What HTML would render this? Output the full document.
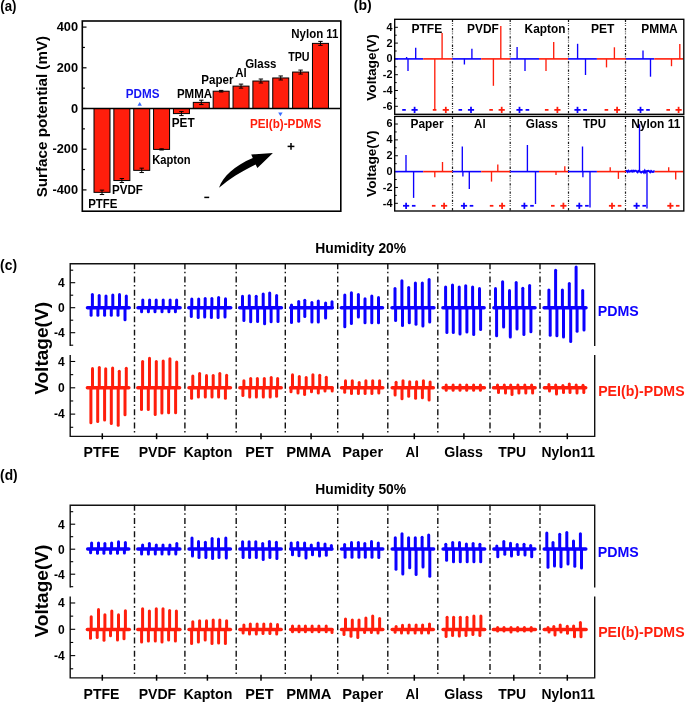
<!DOCTYPE html>
<html><head><meta charset="utf-8"><title>Figure</title>
<style>
html,body{margin:0;padding:0;background:#fff;}
body{width:685px;height:703px;overflow:hidden;}
svg{display:block;filter:blur(0.4px);font-family:"Liberation Sans",sans-serif;font-weight:bold;}
</style></head><body>
<svg width="685" height="703" viewBox="0 0 685 703">
<rect width="685" height="703" fill="#fff"/>
<text x="0.3" y="10.9" font-size="14" fill="#000" textLength="16.2" lengthAdjust="spacingAndGlyphs">(a)</text>
<text x="46.6" y="116.6" font-size="15.3" fill="#000" text-anchor="middle" textLength="161.5" lengthAdjust="spacingAndGlyphs" transform="rotate(-90 46.6 116.6)">Surface potential (mV)</text>
<rect x="94" y="108.5" width="16" height="83.84" fill="#ff1e0c" stroke="#000" stroke-width="1"/>
<line x1="102" y1="190.14" x2="102" y2="194.54" stroke="#000" stroke-width="1" stroke-linecap="butt"/>
<line x1="99.8" y1="190.14" x2="104.2" y2="190.14" stroke="#000" stroke-width="1" stroke-linecap="butt"/>
<line x1="99.8" y1="194.54" x2="104.2" y2="194.54" stroke="#000" stroke-width="1" stroke-linecap="butt"/>
<rect x="113.86" y="108.5" width="16" height="72.04" fill="#ff1e0c" stroke="#000" stroke-width="1"/>
<line x1="121.86" y1="178.54" x2="121.86" y2="182.54" stroke="#000" stroke-width="1" stroke-linecap="butt"/>
<line x1="119.66" y1="178.54" x2="124.06" y2="178.54" stroke="#000" stroke-width="1" stroke-linecap="butt"/>
<line x1="119.66" y1="182.54" x2="124.06" y2="182.54" stroke="#000" stroke-width="1" stroke-linecap="butt"/>
<rect x="133.72" y="108.5" width="16" height="61.86" fill="#ff1e0c" stroke="#000" stroke-width="1"/>
<line x1="141.72" y1="168.16" x2="141.72" y2="172.56" stroke="#000" stroke-width="1" stroke-linecap="butt"/>
<line x1="139.52" y1="168.16" x2="143.92" y2="168.16" stroke="#000" stroke-width="1" stroke-linecap="butt"/>
<line x1="139.52" y1="172.56" x2="143.92" y2="172.56" stroke="#000" stroke-width="1" stroke-linecap="butt"/>
<rect x="153.58" y="108.5" width="16" height="40.9" fill="#ff1e0c" stroke="#000" stroke-width="1"/>
<line x1="161.58" y1="148.8" x2="161.58" y2="150" stroke="#000" stroke-width="1" stroke-linecap="butt"/>
<line x1="159.38" y1="148.8" x2="163.78" y2="148.8" stroke="#000" stroke-width="1" stroke-linecap="butt"/>
<line x1="159.38" y1="150" x2="163.78" y2="150" stroke="#000" stroke-width="1" stroke-linecap="butt"/>
<rect x="173.44" y="108.5" width="16" height="5.09" fill="#ff1e0c" stroke="#000" stroke-width="1"/>
<line x1="181.44" y1="111.59" x2="181.44" y2="115.59" stroke="#000" stroke-width="1" stroke-linecap="butt"/>
<line x1="179.24" y1="111.59" x2="183.64" y2="111.59" stroke="#000" stroke-width="1" stroke-linecap="butt"/>
<line x1="179.24" y1="115.59" x2="183.64" y2="115.59" stroke="#000" stroke-width="1" stroke-linecap="butt"/>
<rect x="193.3" y="102.39" width="16" height="6.11" fill="#ff1e0c" stroke="#000" stroke-width="1"/>
<line x1="201.3" y1="100.19" x2="201.3" y2="104.59" stroke="#000" stroke-width="1" stroke-linecap="butt"/>
<line x1="199.1" y1="100.19" x2="203.5" y2="100.19" stroke="#000" stroke-width="1" stroke-linecap="butt"/>
<line x1="199.1" y1="104.59" x2="203.5" y2="104.59" stroke="#000" stroke-width="1" stroke-linecap="butt"/>
<rect x="213.16" y="91.2" width="16" height="17.3" fill="#ff1e0c" stroke="#000" stroke-width="1"/>
<line x1="221.16" y1="90.4" x2="221.16" y2="92" stroke="#000" stroke-width="1" stroke-linecap="butt"/>
<line x1="218.96" y1="90.4" x2="223.36" y2="90.4" stroke="#000" stroke-width="1" stroke-linecap="butt"/>
<line x1="218.96" y1="92" x2="223.36" y2="92" stroke="#000" stroke-width="1" stroke-linecap="butt"/>
<rect x="233.02" y="86.12" width="16" height="22.38" fill="#ff1e0c" stroke="#000" stroke-width="1"/>
<line x1="241.02" y1="84.12" x2="241.02" y2="88.12" stroke="#000" stroke-width="1" stroke-linecap="butt"/>
<line x1="238.82" y1="84.12" x2="243.22" y2="84.12" stroke="#000" stroke-width="1" stroke-linecap="butt"/>
<line x1="238.82" y1="88.12" x2="243.22" y2="88.12" stroke="#000" stroke-width="1" stroke-linecap="butt"/>
<rect x="252.88" y="81.03" width="16" height="27.47" fill="#ff1e0c" stroke="#000" stroke-width="1"/>
<line x1="260.88" y1="79.03" x2="260.88" y2="83.03" stroke="#000" stroke-width="1" stroke-linecap="butt"/>
<line x1="258.68" y1="79.03" x2="263.08" y2="79.03" stroke="#000" stroke-width="1" stroke-linecap="butt"/>
<line x1="258.68" y1="83.03" x2="263.08" y2="83.03" stroke="#000" stroke-width="1" stroke-linecap="butt"/>
<rect x="272.74" y="77.97" width="16" height="30.53" fill="#ff1e0c" stroke="#000" stroke-width="1"/>
<line x1="280.74" y1="75.97" x2="280.74" y2="79.97" stroke="#000" stroke-width="1" stroke-linecap="butt"/>
<line x1="278.54" y1="75.97" x2="282.94" y2="75.97" stroke="#000" stroke-width="1" stroke-linecap="butt"/>
<line x1="278.54" y1="79.97" x2="282.94" y2="79.97" stroke="#000" stroke-width="1" stroke-linecap="butt"/>
<rect x="292.6" y="72.07" width="16" height="36.43" fill="#ff1e0c" stroke="#000" stroke-width="1"/>
<line x1="300.6" y1="70.07" x2="300.6" y2="74.07" stroke="#000" stroke-width="1" stroke-linecap="butt"/>
<line x1="298.4" y1="70.07" x2="302.8" y2="70.07" stroke="#000" stroke-width="1" stroke-linecap="butt"/>
<line x1="298.4" y1="74.07" x2="302.8" y2="74.07" stroke="#000" stroke-width="1" stroke-linecap="butt"/>
<rect x="312.46" y="43.38" width="16" height="65.12" fill="#ff1e0c" stroke="#000" stroke-width="1"/>
<line x1="320.46" y1="41.38" x2="320.46" y2="45.38" stroke="#000" stroke-width="1" stroke-linecap="butt"/>
<line x1="318.26" y1="41.38" x2="322.66" y2="41.38" stroke="#000" stroke-width="1" stroke-linecap="butt"/>
<line x1="318.26" y1="45.38" x2="322.66" y2="45.38" stroke="#000" stroke-width="1" stroke-linecap="butt"/>
<line x1="82.3" y1="108.5" x2="340.8" y2="108.5" stroke="#000" stroke-width="1.5" stroke-linecap="butt"/>
<rect x="82.3" y="21" width="258.5" height="190.2" fill="none" stroke="#000" stroke-width="1.6"/>
<line x1="82.3" y1="189.9" x2="86.5" y2="189.9" stroke="#000" stroke-width="1.2" stroke-linecap="butt"/>
<line x1="82.3" y1="169.55" x2="84.9" y2="169.55" stroke="#000" stroke-width="1.2" stroke-linecap="butt"/>
<line x1="82.3" y1="149.2" x2="86.5" y2="149.2" stroke="#000" stroke-width="1.2" stroke-linecap="butt"/>
<line x1="82.3" y1="128.85" x2="84.9" y2="128.85" stroke="#000" stroke-width="1.2" stroke-linecap="butt"/>
<line x1="82.3" y1="108.5" x2="86.5" y2="108.5" stroke="#000" stroke-width="1.2" stroke-linecap="butt"/>
<line x1="82.3" y1="88.15" x2="84.9" y2="88.15" stroke="#000" stroke-width="1.2" stroke-linecap="butt"/>
<line x1="82.3" y1="67.8" x2="86.5" y2="67.8" stroke="#000" stroke-width="1.2" stroke-linecap="butt"/>
<line x1="82.3" y1="47.45" x2="84.9" y2="47.45" stroke="#000" stroke-width="1.2" stroke-linecap="butt"/>
<line x1="82.3" y1="27.1" x2="86.5" y2="27.1" stroke="#000" stroke-width="1.2" stroke-linecap="butt"/>
<text x="78.1" y="31.3" font-size="12.8" fill="#000" text-anchor="end">400</text>
<text x="78.1" y="72" font-size="12.8" fill="#000" text-anchor="end">200</text>
<text x="78.1" y="112.7" font-size="12.8" fill="#000" text-anchor="end">0</text>
<text x="78.1" y="153.4" font-size="12.8" fill="#000" text-anchor="end">-200</text>
<text x="78.1" y="194.1" font-size="12.8" fill="#000" text-anchor="end">-400</text>
<text x="88.2" y="208" font-size="12" fill="#000" textLength="29.3" lengthAdjust="spacingAndGlyphs">PTFE</text>
<text x="112.1" y="193.8" font-size="12" fill="#000" textLength="30.8" lengthAdjust="spacingAndGlyphs">PVDF</text>
<text x="152.2" y="163.8" font-size="12" fill="#000" textLength="38.5" lengthAdjust="spacingAndGlyphs">Kapton</text>
<text x="171.7" y="127.2" font-size="12" fill="#000" textLength="22.9" lengthAdjust="spacingAndGlyphs">PET</text>
<text x="176.9" y="98.2" font-size="12" fill="#000" textLength="35.2" lengthAdjust="spacingAndGlyphs">PMMA</text>
<text x="201.3" y="84.1" font-size="12" fill="#000" textLength="32.1" lengthAdjust="spacingAndGlyphs">Paper</text>
<text x="235.3" y="77.2" font-size="12" fill="#000" textLength="11.5" lengthAdjust="spacingAndGlyphs">Al</text>
<text x="245.2" y="67.8" font-size="12" fill="#000" textLength="31.2" lengthAdjust="spacingAndGlyphs">Glass</text>
<text x="288.2" y="61.1" font-size="12" fill="#000" textLength="21.4" lengthAdjust="spacingAndGlyphs">TPU</text>
<text x="291.3" y="37.6" font-size="12" fill="#000" textLength="47.2" lengthAdjust="spacingAndGlyphs">Nylon 11</text>
<text x="125.8" y="98.2" font-size="12" fill="#1414f5" textLength="33.7" lengthAdjust="spacingAndGlyphs">PDMS</text>
<text x="249.9" y="127.5" font-size="12" fill="#ff1e0c" textLength="71.5" lengthAdjust="spacingAndGlyphs">PEI(b)-PDMS</text>
<path d="M137.5,105.7 L141.9,105.7 L139.7,101.9 Z" fill="#3a6cff"/>
<path d="M278.2,112.6 L282.6,112.6 L280.4,116.3 Z" fill="#3a6cff"/>
<line x1="287.6" y1="146.4" x2="294.4" y2="146.4" stroke="#000" stroke-width="1.5" stroke-linecap="butt"/>
<line x1="291" y1="143" x2="291" y2="149.8" stroke="#000" stroke-width="1.5" stroke-linecap="butt"/>
<line x1="204.3" y1="197.4" x2="209.2" y2="197.4" stroke="#000" stroke-width="1.5" stroke-linecap="butt"/>
<path d="M219,187.8 C223,176.5 234,166 252.8,158.0 L251.2,154.6 L272.9,153.0 L257.4,168.0 L255.6,164.4 C241,171.5 229,179 219,187.8 Z" fill="#000"/>
<text x="353.8" y="10.3" font-size="14" fill="#000" textLength="17.9" lengthAdjust="spacingAndGlyphs">(b)</text>
<line x1="452.5" y1="19.3" x2="452.5" y2="114.3" stroke="#1a1a1a" stroke-width="1.2" stroke-linecap="butt" stroke-dasharray="2.3 1.2 0.8 1.2 0.8 2.0" stroke-dashoffset="-0.4"/>
<line x1="510.2" y1="19.3" x2="510.2" y2="114.3" stroke="#1a1a1a" stroke-width="1.2" stroke-linecap="butt" stroke-dasharray="2.3 1.2 0.8 1.2 0.8 2.0" stroke-dashoffset="-0.4"/>
<line x1="568.5" y1="19.3" x2="568.5" y2="114.3" stroke="#1a1a1a" stroke-width="1.2" stroke-linecap="butt" stroke-dasharray="2.3 1.2 0.8 1.2 0.8 2.0" stroke-dashoffset="-0.4"/>
<line x1="625.5" y1="19.3" x2="625.5" y2="114.3" stroke="#1a1a1a" stroke-width="1.2" stroke-linecap="butt" stroke-dasharray="2.3 1.2 0.8 1.2 0.8 2.0" stroke-dashoffset="-0.4"/>
<line x1="394.7" y1="106.3" x2="397.9" y2="106.3" stroke="#000" stroke-width="1" stroke-linecap="butt"/>
<line x1="394.7" y1="98.4" x2="396.7" y2="98.4" stroke="#000" stroke-width="1" stroke-linecap="butt"/>
<line x1="394.7" y1="90.5" x2="397.9" y2="90.5" stroke="#000" stroke-width="1" stroke-linecap="butt"/>
<line x1="394.7" y1="82.6" x2="396.7" y2="82.6" stroke="#000" stroke-width="1" stroke-linecap="butt"/>
<line x1="394.7" y1="74.7" x2="397.9" y2="74.7" stroke="#000" stroke-width="1" stroke-linecap="butt"/>
<line x1="394.7" y1="66.8" x2="396.7" y2="66.8" stroke="#000" stroke-width="1" stroke-linecap="butt"/>
<line x1="394.7" y1="58.9" x2="397.9" y2="58.9" stroke="#000" stroke-width="1" stroke-linecap="butt"/>
<line x1="394.7" y1="51" x2="396.7" y2="51" stroke="#000" stroke-width="1" stroke-linecap="butt"/>
<line x1="394.7" y1="43.1" x2="397.9" y2="43.1" stroke="#000" stroke-width="1" stroke-linecap="butt"/>
<line x1="394.7" y1="35.2" x2="396.7" y2="35.2" stroke="#000" stroke-width="1" stroke-linecap="butt"/>
<line x1="394.7" y1="27.3" x2="397.9" y2="27.3" stroke="#000" stroke-width="1" stroke-linecap="butt"/>
<line x1="394.7" y1="58.9" x2="423.2" y2="58.9" stroke="#0c00ff" stroke-width="1.6" stroke-linecap="butt"/>
<line x1="406.6" y1="58.9" x2="406.6" y2="57" stroke="#0c00ff" stroke-width="1.35" stroke-linecap="butt"/>
<line x1="408" y1="58.9" x2="408" y2="71" stroke="#0c00ff" stroke-width="1.35" stroke-linecap="butt"/>
<line x1="415.7" y1="58.9" x2="415.7" y2="47.7" stroke="#0c00ff" stroke-width="1.35" stroke-linecap="butt"/>
<line x1="423.2" y1="58.9" x2="452.5" y2="58.9" stroke="#ff1e0c" stroke-width="1.6" stroke-linecap="butt"/>
<line x1="434.8" y1="58.9" x2="434.8" y2="109.5" stroke="#ff1e0c" stroke-width="1.35" stroke-linecap="butt"/>
<line x1="442.1" y1="58.9" x2="442.1" y2="32.9" stroke="#ff1e0c" stroke-width="1.35" stroke-linecap="butt"/>
<line x1="452.5" y1="58.9" x2="481.2" y2="58.9" stroke="#0c00ff" stroke-width="1.6" stroke-linecap="butt"/>
<line x1="464.4" y1="58.9" x2="464.4" y2="64.5" stroke="#0c00ff" stroke-width="1.35" stroke-linecap="butt"/>
<line x1="471.9" y1="58.9" x2="471.9" y2="48.7" stroke="#0c00ff" stroke-width="1.35" stroke-linecap="butt"/>
<line x1="481.2" y1="58.9" x2="510.3" y2="58.9" stroke="#ff1e0c" stroke-width="1.6" stroke-linecap="butt"/>
<line x1="493.4" y1="58.9" x2="493.4" y2="85.8" stroke="#ff1e0c" stroke-width="1.35" stroke-linecap="butt"/>
<line x1="500.8" y1="58.9" x2="500.8" y2="25.9" stroke="#ff1e0c" stroke-width="1.35" stroke-linecap="butt"/>
<line x1="510.3" y1="58.9" x2="539" y2="58.9" stroke="#0c00ff" stroke-width="1.6" stroke-linecap="butt"/>
<line x1="517.1" y1="58.9" x2="517.1" y2="47" stroke="#0c00ff" stroke-width="1.35" stroke-linecap="butt"/>
<line x1="525" y1="58.9" x2="525" y2="71" stroke="#0c00ff" stroke-width="1.35" stroke-linecap="butt"/>
<line x1="539" y1="58.9" x2="568.1" y2="58.9" stroke="#ff1e0c" stroke-width="1.6" stroke-linecap="butt"/>
<line x1="546" y1="58.9" x2="546" y2="71" stroke="#ff1e0c" stroke-width="1.35" stroke-linecap="butt"/>
<line x1="553.7" y1="58.9" x2="553.7" y2="42" stroke="#ff1e0c" stroke-width="1.35" stroke-linecap="butt"/>
<line x1="568.1" y1="58.9" x2="596.9" y2="58.9" stroke="#0c00ff" stroke-width="1.6" stroke-linecap="butt"/>
<line x1="577.6" y1="58.9" x2="577.6" y2="43.8" stroke="#0c00ff" stroke-width="1.35" stroke-linecap="butt"/>
<line x1="585.5" y1="58.9" x2="585.5" y2="75" stroke="#0c00ff" stroke-width="1.35" stroke-linecap="butt"/>
<line x1="596.9" y1="58.9" x2="625.9" y2="58.9" stroke="#ff1e0c" stroke-width="1.6" stroke-linecap="butt"/>
<line x1="606.5" y1="58.9" x2="606.5" y2="67.4" stroke="#ff1e0c" stroke-width="1.35" stroke-linecap="butt"/>
<line x1="614.4" y1="58.9" x2="614.4" y2="47.3" stroke="#ff1e0c" stroke-width="1.35" stroke-linecap="butt"/>
<line x1="625.9" y1="58.9" x2="654.3" y2="58.9" stroke="#0c00ff" stroke-width="1.6" stroke-linecap="butt"/>
<line x1="643" y1="58.9" x2="643" y2="50.5" stroke="#0c00ff" stroke-width="1.35" stroke-linecap="butt"/>
<line x1="650.5" y1="58.9" x2="650.5" y2="76.7" stroke="#0c00ff" stroke-width="1.35" stroke-linecap="butt"/>
<line x1="654.3" y1="58.9" x2="683.3" y2="58.9" stroke="#ff1e0c" stroke-width="1.6" stroke-linecap="butt"/>
<line x1="671.5" y1="58.9" x2="671.5" y2="66.2" stroke="#ff1e0c" stroke-width="1.35" stroke-linecap="butt"/>
<line x1="679.8" y1="58.9" x2="679.8" y2="44.1" stroke="#ff1e0c" stroke-width="1.35" stroke-linecap="butt"/>
<line x1="402.2" y1="109.9" x2="405.8" y2="109.9" stroke="#0c00ff" stroke-width="1.75" stroke-linecap="butt"/>
<line x1="411.5" y1="109.9" x2="417.7" y2="109.9" stroke="#0c00ff" stroke-width="1.75" stroke-linecap="butt"/>
<line x1="414.6" y1="106.8" x2="414.6" y2="113" stroke="#0c00ff" stroke-width="1.75" stroke-linecap="butt"/>
<line x1="432.8" y1="109.9" x2="436.4" y2="109.9" stroke="#ff1e0c" stroke-width="1.75" stroke-linecap="butt"/>
<line x1="442.7" y1="109.9" x2="448.9" y2="109.9" stroke="#ff1e0c" stroke-width="1.75" stroke-linecap="butt"/>
<line x1="445.8" y1="106.8" x2="445.8" y2="113" stroke="#ff1e0c" stroke-width="1.75" stroke-linecap="butt"/>
<line x1="458.5" y1="109.9" x2="462.1" y2="109.9" stroke="#0c00ff" stroke-width="1.75" stroke-linecap="butt"/>
<line x1="467.9" y1="109.9" x2="474.1" y2="109.9" stroke="#0c00ff" stroke-width="1.75" stroke-linecap="butt"/>
<line x1="471" y1="106.8" x2="471" y2="113" stroke="#0c00ff" stroke-width="1.75" stroke-linecap="butt"/>
<line x1="489.3" y1="109.9" x2="492.9" y2="109.9" stroke="#ff1e0c" stroke-width="1.75" stroke-linecap="butt"/>
<line x1="498.6" y1="109.9" x2="504.8" y2="109.9" stroke="#ff1e0c" stroke-width="1.75" stroke-linecap="butt"/>
<line x1="501.7" y1="106.8" x2="501.7" y2="113" stroke="#ff1e0c" stroke-width="1.75" stroke-linecap="butt"/>
<line x1="516.4" y1="109.9" x2="522.6" y2="109.9" stroke="#0c00ff" stroke-width="1.75" stroke-linecap="butt"/>
<line x1="519.5" y1="106.8" x2="519.5" y2="113" stroke="#0c00ff" stroke-width="1.75" stroke-linecap="butt"/>
<line x1="525.6" y1="109.9" x2="529.2" y2="109.9" stroke="#0c00ff" stroke-width="1.75" stroke-linecap="butt"/>
<line x1="544.9" y1="109.9" x2="548.5" y2="109.9" stroke="#ff1e0c" stroke-width="1.75" stroke-linecap="butt"/>
<line x1="554.3" y1="109.9" x2="560.5" y2="109.9" stroke="#ff1e0c" stroke-width="1.75" stroke-linecap="butt"/>
<line x1="557.4" y1="106.8" x2="557.4" y2="113" stroke="#ff1e0c" stroke-width="1.75" stroke-linecap="butt"/>
<line x1="574.4" y1="109.9" x2="580.6" y2="109.9" stroke="#0c00ff" stroke-width="1.75" stroke-linecap="butt"/>
<line x1="577.5" y1="106.8" x2="577.5" y2="113" stroke="#0c00ff" stroke-width="1.75" stroke-linecap="butt"/>
<line x1="583.3" y1="109.9" x2="586.9" y2="109.9" stroke="#0c00ff" stroke-width="1.75" stroke-linecap="butt"/>
<line x1="604.6" y1="109.9" x2="608.2" y2="109.9" stroke="#ff1e0c" stroke-width="1.75" stroke-linecap="butt"/>
<line x1="614" y1="109.9" x2="620.2" y2="109.9" stroke="#ff1e0c" stroke-width="1.75" stroke-linecap="butt"/>
<line x1="617.1" y1="106.8" x2="617.1" y2="113" stroke="#ff1e0c" stroke-width="1.75" stroke-linecap="butt"/>
<line x1="637.4" y1="109.9" x2="643.6" y2="109.9" stroke="#0c00ff" stroke-width="1.75" stroke-linecap="butt"/>
<line x1="640.5" y1="106.8" x2="640.5" y2="113" stroke="#0c00ff" stroke-width="1.75" stroke-linecap="butt"/>
<line x1="646.2" y1="109.9" x2="649.8" y2="109.9" stroke="#0c00ff" stroke-width="1.75" stroke-linecap="butt"/>
<line x1="666.4" y1="109.9" x2="670" y2="109.9" stroke="#ff1e0c" stroke-width="1.75" stroke-linecap="butt"/>
<line x1="675.5" y1="109.9" x2="681.7" y2="109.9" stroke="#ff1e0c" stroke-width="1.75" stroke-linecap="butt"/>
<line x1="678.6" y1="106.8" x2="678.6" y2="113" stroke="#ff1e0c" stroke-width="1.75" stroke-linecap="butt"/>
<text x="411.4" y="33" font-size="12.2" fill="#000" textLength="30.8" lengthAdjust="spacingAndGlyphs">PTFE</text>
<text x="467.1" y="33" font-size="12.2" fill="#000" textLength="31.7" lengthAdjust="spacingAndGlyphs">PVDF</text>
<text x="524.6" y="33" font-size="12.2" fill="#000" textLength="40.8" lengthAdjust="spacingAndGlyphs">Kapton</text>
<text x="590.9" y="33" font-size="12.2" fill="#000" textLength="23.4" lengthAdjust="spacingAndGlyphs">PET</text>
<text x="641.3" y="33" font-size="12.2" fill="#000" textLength="36.4" lengthAdjust="spacingAndGlyphs">PMMA</text>
<rect x="394.7" y="19.3" width="289.1" height="95" fill="none" stroke="#000" stroke-width="1.35"/>
<text x="392.4" y="30.7" font-size="10.8" fill="#000" text-anchor="end">4</text>
<text x="392.4" y="46.5" font-size="10.8" fill="#000" text-anchor="end">2</text>
<text x="392.4" y="62.3" font-size="10.8" fill="#000" text-anchor="end">0</text>
<text x="392.4" y="78.1" font-size="10.8" fill="#000" text-anchor="end">-2</text>
<text x="392.4" y="93.9" font-size="10.8" fill="#000" text-anchor="end">-4</text>
<text x="392.4" y="109.7" font-size="10.8" fill="#000" text-anchor="end">-6</text>
<text x="376.4" y="67.5" font-size="13.4" fill="#000" text-anchor="middle" textLength="66.5" lengthAdjust="spacingAndGlyphs" transform="rotate(-90 376.4 67.5)">Voltage(V)</text>
<line x1="452.5" y1="116.4" x2="452.5" y2="211" stroke="#1a1a1a" stroke-width="1.2" stroke-linecap="butt" stroke-dasharray="2.3 1.2 0.8 1.2 0.8 2.0" stroke-dashoffset="-0.4"/>
<line x1="510.2" y1="116.4" x2="510.2" y2="211" stroke="#1a1a1a" stroke-width="1.2" stroke-linecap="butt" stroke-dasharray="2.3 1.2 0.8 1.2 0.8 2.0" stroke-dashoffset="-0.4"/>
<line x1="568.5" y1="116.4" x2="568.5" y2="211" stroke="#1a1a1a" stroke-width="1.2" stroke-linecap="butt" stroke-dasharray="2.3 1.2 0.8 1.2 0.8 2.0" stroke-dashoffset="-0.4"/>
<line x1="625.5" y1="116.4" x2="625.5" y2="211" stroke="#1a1a1a" stroke-width="1.2" stroke-linecap="butt" stroke-dasharray="2.3 1.2 0.8 1.2 0.8 2.0" stroke-dashoffset="-0.4"/>
<line x1="394.7" y1="203.32" x2="397.9" y2="203.32" stroke="#000" stroke-width="1" stroke-linecap="butt"/>
<line x1="394.7" y1="195.39" x2="396.7" y2="195.39" stroke="#000" stroke-width="1" stroke-linecap="butt"/>
<line x1="394.7" y1="187.46" x2="397.9" y2="187.46" stroke="#000" stroke-width="1" stroke-linecap="butt"/>
<line x1="394.7" y1="179.53" x2="396.7" y2="179.53" stroke="#000" stroke-width="1" stroke-linecap="butt"/>
<line x1="394.7" y1="171.6" x2="397.9" y2="171.6" stroke="#000" stroke-width="1" stroke-linecap="butt"/>
<line x1="394.7" y1="163.67" x2="396.7" y2="163.67" stroke="#000" stroke-width="1" stroke-linecap="butt"/>
<line x1="394.7" y1="155.74" x2="397.9" y2="155.74" stroke="#000" stroke-width="1" stroke-linecap="butt"/>
<line x1="394.7" y1="147.81" x2="396.7" y2="147.81" stroke="#000" stroke-width="1" stroke-linecap="butt"/>
<line x1="394.7" y1="139.88" x2="397.9" y2="139.88" stroke="#000" stroke-width="1" stroke-linecap="butt"/>
<line x1="394.7" y1="131.95" x2="396.7" y2="131.95" stroke="#000" stroke-width="1" stroke-linecap="butt"/>
<line x1="394.7" y1="124.02" x2="397.9" y2="124.02" stroke="#000" stroke-width="1" stroke-linecap="butt"/>
<line x1="394.7" y1="171.6" x2="423.2" y2="171.6" stroke="#0c00ff" stroke-width="1.6" stroke-linecap="butt"/>
<line x1="406" y1="171.6" x2="406" y2="154.9" stroke="#0c00ff" stroke-width="1.35" stroke-linecap="butt"/>
<line x1="413.6" y1="171.6" x2="413.6" y2="197.9" stroke="#0c00ff" stroke-width="1.35" stroke-linecap="butt"/>
<line x1="423.2" y1="171.6" x2="452.5" y2="171.6" stroke="#ff1e0c" stroke-width="1.6" stroke-linecap="butt"/>
<line x1="434.8" y1="171.6" x2="434.8" y2="177.2" stroke="#ff1e0c" stroke-width="1.35" stroke-linecap="butt"/>
<line x1="442.5" y1="171.6" x2="442.5" y2="162" stroke="#ff1e0c" stroke-width="1.35" stroke-linecap="butt"/>
<line x1="452.5" y1="171.6" x2="481.2" y2="171.6" stroke="#0c00ff" stroke-width="1.6" stroke-linecap="butt"/>
<line x1="462.3" y1="171.6" x2="462.3" y2="146.5" stroke="#0c00ff" stroke-width="1.35" stroke-linecap="butt"/>
<line x1="462.9" y1="171.6" x2="462.9" y2="176.5" stroke="#0c00ff" stroke-width="1.35" stroke-linecap="butt"/>
<line x1="469.3" y1="171.6" x2="469.3" y2="189.1" stroke="#0c00ff" stroke-width="1.35" stroke-linecap="butt"/>
<line x1="481.2" y1="171.6" x2="510.3" y2="171.6" stroke="#ff1e0c" stroke-width="1.6" stroke-linecap="butt"/>
<line x1="491.5" y1="171.6" x2="491.5" y2="181.6" stroke="#ff1e0c" stroke-width="1.35" stroke-linecap="butt"/>
<line x1="497.8" y1="171.6" x2="497.8" y2="164.6" stroke="#ff1e0c" stroke-width="1.35" stroke-linecap="butt"/>
<line x1="510.3" y1="171.6" x2="539" y2="171.6" stroke="#0c00ff" stroke-width="1.6" stroke-linecap="butt"/>
<line x1="527.4" y1="171.6" x2="527.4" y2="145" stroke="#0c00ff" stroke-width="1.35" stroke-linecap="butt"/>
<line x1="535.5" y1="171.6" x2="535.5" y2="204" stroke="#0c00ff" stroke-width="1.35" stroke-linecap="butt"/>
<line x1="539" y1="171.6" x2="568.1" y2="171.6" stroke="#ff1e0c" stroke-width="1.6" stroke-linecap="butt"/>
<line x1="556" y1="171.6" x2="556" y2="175" stroke="#ff1e0c" stroke-width="1.35" stroke-linecap="butt"/>
<line x1="564.8" y1="171.6" x2="564.8" y2="166.3" stroke="#ff1e0c" stroke-width="1.35" stroke-linecap="butt"/>
<line x1="568.1" y1="171.6" x2="596.9" y2="171.6" stroke="#0c00ff" stroke-width="1.6" stroke-linecap="butt"/>
<line x1="582.5" y1="171.6" x2="582.5" y2="146.5" stroke="#0c00ff" stroke-width="1.35" stroke-linecap="butt"/>
<line x1="582.9" y1="171.6" x2="582.9" y2="177.2" stroke="#0c00ff" stroke-width="1.35" stroke-linecap="butt"/>
<line x1="590" y1="171.6" x2="590" y2="207.5" stroke="#0c00ff" stroke-width="1.35" stroke-linecap="butt"/>
<line x1="596.9" y1="171.6" x2="625.9" y2="171.6" stroke="#ff1e0c" stroke-width="1.6" stroke-linecap="butt"/>
<line x1="610.2" y1="171.6" x2="610.2" y2="167.2" stroke="#ff1e0c" stroke-width="1.35" stroke-linecap="butt"/>
<line x1="618.4" y1="171.6" x2="618.4" y2="178.9" stroke="#ff1e0c" stroke-width="1.35" stroke-linecap="butt"/>
<polyline points="625.9,171.25 626.8,170.9 627.7,171.9 628.6,170.74 629.5,171.67 630.4,171.33 631.3,170.72 632.2,171.61 633.1,170.67 634,171.47 634.9,170.74 635.8,170.78 636.7,171.45 637.6,172.25 638.5,170.85 639.4,171.05 640.3,171.85 641.2,172.5 642.1,171.75 643,171.39 643.9,172.55 644.8,170.69 645.7,172.32 646.6,171.18 647.5,170.89 648.4,170.84 649.3,171.22 650.2,172.23 651.1,170.96 652,171.76 652.9,171.88 653.8,171.34 654.7,171.7" fill="none" stroke="#0c00ff" stroke-width="2"/>
<line x1="639.5" y1="171.6" x2="639.5" y2="124.3" stroke="#0c00ff" stroke-width="1.35" stroke-linecap="butt"/>
<line x1="647" y1="171.6" x2="647" y2="208.4" stroke="#0c00ff" stroke-width="1.35" stroke-linecap="butt"/>
<line x1="654.7" y1="171.6" x2="683.3" y2="171.6" stroke="#ff1e0c" stroke-width="1.6" stroke-linecap="butt"/>
<line x1="668.7" y1="171.6" x2="668.7" y2="167.2" stroke="#ff1e0c" stroke-width="1.35" stroke-linecap="butt"/>
<line x1="675.7" y1="171.6" x2="675.7" y2="179.5" stroke="#ff1e0c" stroke-width="1.35" stroke-linecap="butt"/>
<line x1="403" y1="205.8" x2="409.2" y2="205.8" stroke="#0c00ff" stroke-width="1.75" stroke-linecap="butt"/>
<line x1="406.1" y1="202.7" x2="406.1" y2="208.9" stroke="#0c00ff" stroke-width="1.75" stroke-linecap="butt"/>
<line x1="411.9" y1="205.8" x2="415.5" y2="205.8" stroke="#0c00ff" stroke-width="1.75" stroke-linecap="butt"/>
<line x1="431.9" y1="205.8" x2="435.5" y2="205.8" stroke="#ff1e0c" stroke-width="1.75" stroke-linecap="butt"/>
<line x1="441" y1="205.8" x2="447.2" y2="205.8" stroke="#ff1e0c" stroke-width="1.75" stroke-linecap="butt"/>
<line x1="444.1" y1="202.7" x2="444.1" y2="208.9" stroke="#ff1e0c" stroke-width="1.75" stroke-linecap="butt"/>
<line x1="460.9" y1="205.8" x2="467.1" y2="205.8" stroke="#0c00ff" stroke-width="1.75" stroke-linecap="butt"/>
<line x1="464" y1="202.7" x2="464" y2="208.9" stroke="#0c00ff" stroke-width="1.75" stroke-linecap="butt"/>
<line x1="469.7" y1="205.8" x2="473.3" y2="205.8" stroke="#0c00ff" stroke-width="1.75" stroke-linecap="butt"/>
<line x1="489.8" y1="205.8" x2="493.4" y2="205.8" stroke="#ff1e0c" stroke-width="1.75" stroke-linecap="butt"/>
<line x1="499" y1="205.8" x2="505.2" y2="205.8" stroke="#ff1e0c" stroke-width="1.75" stroke-linecap="butt"/>
<line x1="502.1" y1="202.7" x2="502.1" y2="208.9" stroke="#ff1e0c" stroke-width="1.75" stroke-linecap="butt"/>
<line x1="521.3" y1="205.8" x2="527.5" y2="205.8" stroke="#0c00ff" stroke-width="1.75" stroke-linecap="butt"/>
<line x1="524.4" y1="202.7" x2="524.4" y2="208.9" stroke="#0c00ff" stroke-width="1.75" stroke-linecap="butt"/>
<line x1="530.2" y1="205.8" x2="533.8" y2="205.8" stroke="#0c00ff" stroke-width="1.75" stroke-linecap="butt"/>
<line x1="551" y1="205.8" x2="554.6" y2="205.8" stroke="#ff1e0c" stroke-width="1.75" stroke-linecap="butt"/>
<line x1="560.3" y1="205.8" x2="566.5" y2="205.8" stroke="#ff1e0c" stroke-width="1.75" stroke-linecap="butt"/>
<line x1="563.4" y1="202.7" x2="563.4" y2="208.9" stroke="#ff1e0c" stroke-width="1.75" stroke-linecap="butt"/>
<line x1="576.2" y1="205.8" x2="582.4" y2="205.8" stroke="#0c00ff" stroke-width="1.75" stroke-linecap="butt"/>
<line x1="579.3" y1="202.7" x2="579.3" y2="208.9" stroke="#0c00ff" stroke-width="1.75" stroke-linecap="butt"/>
<line x1="585.1" y1="205.8" x2="588.7" y2="205.8" stroke="#0c00ff" stroke-width="1.75" stroke-linecap="butt"/>
<line x1="608.9" y1="205.8" x2="615.1" y2="205.8" stroke="#ff1e0c" stroke-width="1.75" stroke-linecap="butt"/>
<line x1="612" y1="202.7" x2="612" y2="208.9" stroke="#ff1e0c" stroke-width="1.75" stroke-linecap="butt"/>
<line x1="617.8" y1="205.8" x2="621.4" y2="205.8" stroke="#ff1e0c" stroke-width="1.75" stroke-linecap="butt"/>
<line x1="633.5" y1="205.8" x2="639.7" y2="205.8" stroke="#0c00ff" stroke-width="1.75" stroke-linecap="butt"/>
<line x1="636.6" y1="202.7" x2="636.6" y2="208.9" stroke="#0c00ff" stroke-width="1.75" stroke-linecap="butt"/>
<line x1="642.4" y1="205.8" x2="646" y2="205.8" stroke="#0c00ff" stroke-width="1.75" stroke-linecap="butt"/>
<line x1="667.3" y1="205.8" x2="673.5" y2="205.8" stroke="#ff1e0c" stroke-width="1.75" stroke-linecap="butt"/>
<line x1="670.4" y1="202.7" x2="670.4" y2="208.9" stroke="#ff1e0c" stroke-width="1.75" stroke-linecap="butt"/>
<line x1="675.9" y1="205.8" x2="679.5" y2="205.8" stroke="#ff1e0c" stroke-width="1.75" stroke-linecap="butt"/>
<text x="410.6" y="128" font-size="12.2" fill="#000" textLength="33" lengthAdjust="spacingAndGlyphs">Paper</text>
<text x="474.1" y="128" font-size="12.2" fill="#000" textLength="11.5" lengthAdjust="spacingAndGlyphs">Al</text>
<text x="525.8" y="128" font-size="12.2" fill="#000" textLength="32" lengthAdjust="spacingAndGlyphs">Glass</text>
<text x="583" y="128" font-size="12.2" fill="#000" textLength="22.9" lengthAdjust="spacingAndGlyphs">TPU</text>
<text x="631.2" y="128" font-size="12.2" fill="#000" textLength="49.2" lengthAdjust="spacingAndGlyphs">Nylon 11</text>
<rect x="394.7" y="116.4" width="289.1" height="94.6" fill="none" stroke="#000" stroke-width="1.35"/>
<text x="392.4" y="127.42" font-size="10.8" fill="#000" text-anchor="end">6</text>
<text x="392.4" y="143.28" font-size="10.8" fill="#000" text-anchor="end">4</text>
<text x="392.4" y="159.14" font-size="10.8" fill="#000" text-anchor="end">2</text>
<text x="392.4" y="175" font-size="10.8" fill="#000" text-anchor="end">0</text>
<text x="392.4" y="190.86" font-size="10.8" fill="#000" text-anchor="end">-2</text>
<text x="392.4" y="206.72" font-size="10.8" fill="#000" text-anchor="end">-4</text>
<text x="376.4" y="163.7" font-size="13.4" fill="#000" text-anchor="middle" textLength="66.5" lengthAdjust="spacingAndGlyphs" transform="rotate(-90 376.4 163.7)">Voltage(V)</text>
<text x="0.1" y="270.2" font-size="14.2" fill="#000" textLength="16.9" lengthAdjust="spacingAndGlyphs">(c)</text>
<text x="315.2" y="252.9" font-size="14" fill="#000" textLength="91" lengthAdjust="spacingAndGlyphs">Humidity 20%</text>
<line x1="134.5" y1="263.3" x2="134.5" y2="433.4" stroke="#111" stroke-width="1.4" stroke-linecap="butt" stroke-dasharray="5.9 2.5 1.6 3.27"/>
<line x1="184.9" y1="263.3" x2="184.9" y2="433.4" stroke="#111" stroke-width="1.4" stroke-linecap="butt" stroke-dasharray="5.9 2.5 1.6 3.27"/>
<line x1="236.2" y1="263.3" x2="236.2" y2="433.4" stroke="#111" stroke-width="1.4" stroke-linecap="butt" stroke-dasharray="5.9 2.5 1.6 3.27"/>
<line x1="285.3" y1="263.3" x2="285.3" y2="433.4" stroke="#111" stroke-width="1.4" stroke-linecap="butt" stroke-dasharray="5.9 2.5 1.6 3.27"/>
<line x1="337.7" y1="263.3" x2="337.7" y2="433.4" stroke="#111" stroke-width="1.4" stroke-linecap="butt" stroke-dasharray="5.9 2.5 1.6 3.27"/>
<line x1="387.8" y1="263.3" x2="387.8" y2="433.4" stroke="#111" stroke-width="1.4" stroke-linecap="butt" stroke-dasharray="5.9 2.5 1.6 3.27"/>
<line x1="437.8" y1="263.3" x2="437.8" y2="433.4" stroke="#111" stroke-width="1.4" stroke-linecap="butt" stroke-dasharray="5.9 2.5 1.6 3.27"/>
<line x1="490" y1="263.3" x2="490" y2="433.4" stroke="#111" stroke-width="1.4" stroke-linecap="butt" stroke-dasharray="5.9 2.5 1.6 3.27"/>
<line x1="540" y1="263.3" x2="540" y2="433.4" stroke="#111" stroke-width="1.4" stroke-linecap="butt" stroke-dasharray="5.9 2.5 1.6 3.27"/>
<line x1="87.5" y1="307.8" x2="129.2" y2="307.8" stroke="#0c00ff" stroke-width="3.5" stroke-linecap="round"/>
<line x1="92.4" y1="307.8" x2="92.4" y2="294.6" stroke="#0c00ff" stroke-width="3" stroke-linecap="round"/>
<line x1="99.2" y1="307.8" x2="99.2" y2="295.4" stroke="#0c00ff" stroke-width="3" stroke-linecap="round"/>
<line x1="106" y1="307.8" x2="106" y2="296" stroke="#0c00ff" stroke-width="3" stroke-linecap="round"/>
<line x1="112.8" y1="307.8" x2="112.8" y2="295" stroke="#0c00ff" stroke-width="3" stroke-linecap="round"/>
<line x1="119.5" y1="307.8" x2="119.5" y2="294.5" stroke="#0c00ff" stroke-width="3" stroke-linecap="round"/>
<line x1="126.3" y1="307.8" x2="126.3" y2="296" stroke="#0c00ff" stroke-width="3" stroke-linecap="round"/>
<line x1="91.1" y1="307.8" x2="91.1" y2="315.2" stroke="#0c00ff" stroke-width="3" stroke-linecap="round"/>
<line x1="97.9" y1="307.8" x2="97.9" y2="315.2" stroke="#0c00ff" stroke-width="3" stroke-linecap="round"/>
<line x1="104.6" y1="307.8" x2="104.6" y2="315.2" stroke="#0c00ff" stroke-width="3" stroke-linecap="round"/>
<line x1="111.3" y1="307.8" x2="111.3" y2="315.2" stroke="#0c00ff" stroke-width="3" stroke-linecap="round"/>
<line x1="118" y1="307.8" x2="118" y2="315.2" stroke="#0c00ff" stroke-width="3" stroke-linecap="round"/>
<line x1="125" y1="307.8" x2="125" y2="319.7" stroke="#0c00ff" stroke-width="3" stroke-linecap="round"/>
<line x1="138" y1="307.8" x2="180.1" y2="307.8" stroke="#0c00ff" stroke-width="3.5" stroke-linecap="round"/>
<line x1="142.8" y1="307.8" x2="142.8" y2="300.1" stroke="#0c00ff" stroke-width="3" stroke-linecap="round"/>
<line x1="149.6" y1="307.8" x2="149.6" y2="300.1" stroke="#0c00ff" stroke-width="3" stroke-linecap="round"/>
<line x1="156.2" y1="307.8" x2="156.2" y2="300.1" stroke="#0c00ff" stroke-width="3" stroke-linecap="round"/>
<line x1="163.2" y1="307.8" x2="163.2" y2="300.1" stroke="#0c00ff" stroke-width="3" stroke-linecap="round"/>
<line x1="170.1" y1="307.8" x2="170.1" y2="300.1" stroke="#0c00ff" stroke-width="3" stroke-linecap="round"/>
<line x1="176.6" y1="307.8" x2="176.6" y2="300.1" stroke="#0c00ff" stroke-width="3" stroke-linecap="round"/>
<line x1="141.6" y1="307.8" x2="141.6" y2="311.8" stroke="#0c00ff" stroke-width="3" stroke-linecap="round"/>
<line x1="148.4" y1="307.8" x2="148.4" y2="311.8" stroke="#0c00ff" stroke-width="3" stroke-linecap="round"/>
<line x1="155" y1="307.8" x2="155" y2="311.8" stroke="#0c00ff" stroke-width="3" stroke-linecap="round"/>
<line x1="162" y1="307.8" x2="162" y2="311.8" stroke="#0c00ff" stroke-width="3" stroke-linecap="round"/>
<line x1="168.9" y1="307.8" x2="168.9" y2="311.8" stroke="#0c00ff" stroke-width="3" stroke-linecap="round"/>
<line x1="175.4" y1="307.8" x2="175.4" y2="311.8" stroke="#0c00ff" stroke-width="3" stroke-linecap="round"/>
<line x1="188.8" y1="307.8" x2="230.7" y2="307.8" stroke="#0c00ff" stroke-width="3.5" stroke-linecap="round"/>
<line x1="191.8" y1="307.8" x2="191.8" y2="299.1" stroke="#0c00ff" stroke-width="3" stroke-linecap="round"/>
<line x1="198.7" y1="307.8" x2="198.7" y2="299.1" stroke="#0c00ff" stroke-width="3" stroke-linecap="round"/>
<line x1="205.2" y1="307.8" x2="205.2" y2="298.4" stroke="#0c00ff" stroke-width="3" stroke-linecap="round"/>
<line x1="211.9" y1="307.8" x2="211.9" y2="298.4" stroke="#0c00ff" stroke-width="3" stroke-linecap="round"/>
<line x1="218.6" y1="307.8" x2="218.6" y2="297.6" stroke="#0c00ff" stroke-width="3" stroke-linecap="round"/>
<line x1="225.5" y1="307.8" x2="225.5" y2="298.8" stroke="#0c00ff" stroke-width="3" stroke-linecap="round"/>
<line x1="191.3" y1="307.8" x2="191.3" y2="316.6" stroke="#0c00ff" stroke-width="3" stroke-linecap="round"/>
<line x1="198.2" y1="307.8" x2="198.2" y2="317.4" stroke="#0c00ff" stroke-width="3" stroke-linecap="round"/>
<line x1="204.7" y1="307.8" x2="204.7" y2="316.9" stroke="#0c00ff" stroke-width="3" stroke-linecap="round"/>
<line x1="211.4" y1="307.8" x2="211.4" y2="317.4" stroke="#0c00ff" stroke-width="3" stroke-linecap="round"/>
<line x1="218.1" y1="307.8" x2="218.1" y2="317.4" stroke="#0c00ff" stroke-width="3" stroke-linecap="round"/>
<line x1="225" y1="307.8" x2="225" y2="316.9" stroke="#0c00ff" stroke-width="3" stroke-linecap="round"/>
<line x1="239.7" y1="307.8" x2="281.4" y2="307.8" stroke="#0c00ff" stroke-width="3.5" stroke-linecap="round"/>
<line x1="242.5" y1="307.8" x2="242.5" y2="296.2" stroke="#0c00ff" stroke-width="3" stroke-linecap="round"/>
<line x1="249.3" y1="307.8" x2="249.3" y2="295.7" stroke="#0c00ff" stroke-width="3" stroke-linecap="round"/>
<line x1="256.2" y1="307.8" x2="256.2" y2="296.3" stroke="#0c00ff" stroke-width="3" stroke-linecap="round"/>
<line x1="263.2" y1="307.8" x2="263.2" y2="294.1" stroke="#0c00ff" stroke-width="3" stroke-linecap="round"/>
<line x1="269.7" y1="307.8" x2="269.7" y2="293" stroke="#0c00ff" stroke-width="3" stroke-linecap="round"/>
<line x1="276.6" y1="307.8" x2="276.6" y2="295.4" stroke="#0c00ff" stroke-width="3" stroke-linecap="round"/>
<line x1="243.9" y1="307.8" x2="243.9" y2="320.5" stroke="#0c00ff" stroke-width="3" stroke-linecap="round"/>
<line x1="250.7" y1="307.8" x2="250.7" y2="321.8" stroke="#0c00ff" stroke-width="3" stroke-linecap="round"/>
<line x1="257.6" y1="307.8" x2="257.6" y2="321.5" stroke="#0c00ff" stroke-width="3" stroke-linecap="round"/>
<line x1="264.6" y1="307.8" x2="264.6" y2="323.7" stroke="#0c00ff" stroke-width="3" stroke-linecap="round"/>
<line x1="271.1" y1="307.8" x2="271.1" y2="321.8" stroke="#0c00ff" stroke-width="3" stroke-linecap="round"/>
<line x1="278" y1="307.8" x2="278" y2="321.5" stroke="#0c00ff" stroke-width="3" stroke-linecap="round"/>
<line x1="290.7" y1="307.8" x2="332.3" y2="307.8" stroke="#0c00ff" stroke-width="3.5" stroke-linecap="round"/>
<line x1="291.5" y1="307.8" x2="291.5" y2="305" stroke="#0c00ff" stroke-width="3" stroke-linecap="round"/>
<line x1="298.7" y1="307.8" x2="298.7" y2="301.5" stroke="#0c00ff" stroke-width="3" stroke-linecap="round"/>
<line x1="304.8" y1="307.8" x2="304.8" y2="300.2" stroke="#0c00ff" stroke-width="3" stroke-linecap="round"/>
<line x1="311.9" y1="307.8" x2="311.9" y2="302.6" stroke="#0c00ff" stroke-width="3" stroke-linecap="round"/>
<line x1="318.3" y1="307.8" x2="318.3" y2="301" stroke="#0c00ff" stroke-width="3" stroke-linecap="round"/>
<line x1="325.6" y1="307.8" x2="325.6" y2="303.1" stroke="#0c00ff" stroke-width="3" stroke-linecap="round"/>
<line x1="332" y1="307.8" x2="332" y2="301.8" stroke="#0c00ff" stroke-width="3" stroke-linecap="round"/>
<line x1="291.5" y1="307.8" x2="291.5" y2="322.6" stroke="#0c00ff" stroke-width="3" stroke-linecap="round"/>
<line x1="298.7" y1="307.8" x2="298.7" y2="321.3" stroke="#0c00ff" stroke-width="3" stroke-linecap="round"/>
<line x1="304.8" y1="307.8" x2="304.8" y2="316.5" stroke="#0c00ff" stroke-width="3" stroke-linecap="round"/>
<line x1="311.9" y1="307.8" x2="311.9" y2="322.1" stroke="#0c00ff" stroke-width="3" stroke-linecap="round"/>
<line x1="318.3" y1="307.8" x2="318.3" y2="322.1" stroke="#0c00ff" stroke-width="3" stroke-linecap="round"/>
<line x1="325.6" y1="307.8" x2="325.6" y2="318.1" stroke="#0c00ff" stroke-width="3" stroke-linecap="round"/>
<line x1="341.3" y1="307.8" x2="382.5" y2="307.8" stroke="#0c00ff" stroke-width="3.5" stroke-linecap="round"/>
<line x1="344.8" y1="307.8" x2="344.8" y2="294.9" stroke="#0c00ff" stroke-width="3" stroke-linecap="round"/>
<line x1="351.4" y1="307.8" x2="351.4" y2="292.8" stroke="#0c00ff" stroke-width="3" stroke-linecap="round"/>
<line x1="358.4" y1="307.8" x2="358.4" y2="294.4" stroke="#0c00ff" stroke-width="3" stroke-linecap="round"/>
<line x1="365" y1="307.8" x2="365" y2="298.7" stroke="#0c00ff" stroke-width="3" stroke-linecap="round"/>
<line x1="371.8" y1="307.8" x2="371.8" y2="296" stroke="#0c00ff" stroke-width="3" stroke-linecap="round"/>
<line x1="378.5" y1="307.8" x2="378.5" y2="297.6" stroke="#0c00ff" stroke-width="3" stroke-linecap="round"/>
<line x1="344.8" y1="307.8" x2="344.8" y2="326.7" stroke="#0c00ff" stroke-width="3" stroke-linecap="round"/>
<line x1="351.4" y1="307.8" x2="351.4" y2="323.5" stroke="#0c00ff" stroke-width="3" stroke-linecap="round"/>
<line x1="358.4" y1="307.8" x2="358.4" y2="317.1" stroke="#0c00ff" stroke-width="3" stroke-linecap="round"/>
<line x1="365" y1="307.8" x2="365" y2="322.7" stroke="#0c00ff" stroke-width="3" stroke-linecap="round"/>
<line x1="371.8" y1="307.8" x2="371.8" y2="322.7" stroke="#0c00ff" stroke-width="3" stroke-linecap="round"/>
<line x1="378.5" y1="307.8" x2="378.5" y2="322.7" stroke="#0c00ff" stroke-width="3" stroke-linecap="round"/>
<line x1="392" y1="307.8" x2="433.9" y2="307.8" stroke="#0c00ff" stroke-width="3.5" stroke-linecap="round"/>
<line x1="395" y1="307.8" x2="395" y2="288.4" stroke="#0c00ff" stroke-width="3" stroke-linecap="round"/>
<line x1="401.9" y1="307.8" x2="401.9" y2="280.7" stroke="#0c00ff" stroke-width="3" stroke-linecap="round"/>
<line x1="408.7" y1="307.8" x2="408.7" y2="287.6" stroke="#0c00ff" stroke-width="3" stroke-linecap="round"/>
<line x1="415.4" y1="307.8" x2="415.4" y2="283.1" stroke="#0c00ff" stroke-width="3" stroke-linecap="round"/>
<line x1="422.3" y1="307.8" x2="422.3" y2="283.1" stroke="#0c00ff" stroke-width="3" stroke-linecap="round"/>
<line x1="429.1" y1="307.8" x2="429.1" y2="279.5" stroke="#0c00ff" stroke-width="3" stroke-linecap="round"/>
<line x1="395.6" y1="307.8" x2="395.6" y2="320.6" stroke="#0c00ff" stroke-width="3" stroke-linecap="round"/>
<line x1="402.5" y1="307.8" x2="402.5" y2="325.4" stroke="#0c00ff" stroke-width="3" stroke-linecap="round"/>
<line x1="409.3" y1="307.8" x2="409.3" y2="322.7" stroke="#0c00ff" stroke-width="3" stroke-linecap="round"/>
<line x1="416" y1="307.8" x2="416" y2="324.3" stroke="#0c00ff" stroke-width="3" stroke-linecap="round"/>
<line x1="422.9" y1="307.8" x2="422.9" y2="325.9" stroke="#0c00ff" stroke-width="3" stroke-linecap="round"/>
<line x1="429.7" y1="307.8" x2="429.7" y2="321.9" stroke="#0c00ff" stroke-width="3" stroke-linecap="round"/>
<line x1="442.9" y1="307.8" x2="484.1" y2="307.8" stroke="#0c00ff" stroke-width="3.5" stroke-linecap="round"/>
<line x1="445.6" y1="307.8" x2="445.6" y2="287" stroke="#0c00ff" stroke-width="3" stroke-linecap="round"/>
<line x1="452.5" y1="307.8" x2="452.5" y2="285.1" stroke="#0c00ff" stroke-width="3" stroke-linecap="round"/>
<line x1="459.2" y1="307.8" x2="459.2" y2="287" stroke="#0c00ff" stroke-width="3" stroke-linecap="round"/>
<line x1="465.7" y1="307.8" x2="465.7" y2="285.7" stroke="#0c00ff" stroke-width="3" stroke-linecap="round"/>
<line x1="472.6" y1="307.8" x2="472.6" y2="287" stroke="#0c00ff" stroke-width="3" stroke-linecap="round"/>
<line x1="479.5" y1="307.8" x2="479.5" y2="288.6" stroke="#0c00ff" stroke-width="3" stroke-linecap="round"/>
<line x1="446.9" y1="307.8" x2="446.9" y2="332.6" stroke="#0c00ff" stroke-width="3" stroke-linecap="round"/>
<line x1="453.3" y1="307.8" x2="453.3" y2="332.6" stroke="#0c00ff" stroke-width="3" stroke-linecap="round"/>
<line x1="460" y1="307.8" x2="460" y2="333.9" stroke="#0c00ff" stroke-width="3" stroke-linecap="round"/>
<line x1="466.9" y1="307.8" x2="466.9" y2="332" stroke="#0c00ff" stroke-width="3" stroke-linecap="round"/>
<line x1="473.7" y1="307.8" x2="473.7" y2="334.6" stroke="#0c00ff" stroke-width="3" stroke-linecap="round"/>
<line x1="480.6" y1="307.8" x2="480.6" y2="329.4" stroke="#0c00ff" stroke-width="3" stroke-linecap="round"/>
<line x1="493.9" y1="307.8" x2="535" y2="307.8" stroke="#0c00ff" stroke-width="3.5" stroke-linecap="round"/>
<line x1="495.5" y1="307.8" x2="495.5" y2="288.6" stroke="#0c00ff" stroke-width="3" stroke-linecap="round"/>
<line x1="502.6" y1="307.8" x2="502.6" y2="281.7" stroke="#0c00ff" stroke-width="3" stroke-linecap="round"/>
<line x1="509.5" y1="307.8" x2="509.5" y2="290.5" stroke="#0c00ff" stroke-width="3" stroke-linecap="round"/>
<line x1="516.2" y1="307.8" x2="516.2" y2="282.5" stroke="#0c00ff" stroke-width="3" stroke-linecap="round"/>
<line x1="522.8" y1="307.8" x2="522.8" y2="288.3" stroke="#0c00ff" stroke-width="3" stroke-linecap="round"/>
<line x1="529.6" y1="307.8" x2="529.6" y2="285.4" stroke="#0c00ff" stroke-width="3" stroke-linecap="round"/>
<line x1="496.6" y1="307.8" x2="496.6" y2="335.8" stroke="#0c00ff" stroke-width="3" stroke-linecap="round"/>
<line x1="503.6" y1="307.8" x2="503.6" y2="327" stroke="#0c00ff" stroke-width="3" stroke-linecap="round"/>
<line x1="510.3" y1="307.8" x2="510.3" y2="337.1" stroke="#0c00ff" stroke-width="3" stroke-linecap="round"/>
<line x1="517" y1="307.8" x2="517" y2="329.1" stroke="#0c00ff" stroke-width="3" stroke-linecap="round"/>
<line x1="523.9" y1="307.8" x2="523.9" y2="334.6" stroke="#0c00ff" stroke-width="3" stroke-linecap="round"/>
<line x1="530.9" y1="307.8" x2="530.9" y2="331.8" stroke="#0c00ff" stroke-width="3" stroke-linecap="round"/>
<line x1="544.1" y1="307.8" x2="586" y2="307.8" stroke="#0c00ff" stroke-width="3.5" stroke-linecap="round"/>
<line x1="548.9" y1="307.8" x2="548.9" y2="290" stroke="#0c00ff" stroke-width="3" stroke-linecap="round"/>
<line x1="555.6" y1="307.8" x2="555.6" y2="270.2" stroke="#0c00ff" stroke-width="3" stroke-linecap="round"/>
<line x1="562.4" y1="307.8" x2="562.4" y2="290" stroke="#0c00ff" stroke-width="3" stroke-linecap="round"/>
<line x1="569.3" y1="307.8" x2="569.3" y2="283.6" stroke="#0c00ff" stroke-width="3" stroke-linecap="round"/>
<line x1="576.1" y1="307.8" x2="576.1" y2="267" stroke="#0c00ff" stroke-width="3" stroke-linecap="round"/>
<line x1="582.7" y1="307.8" x2="582.7" y2="290.4" stroke="#0c00ff" stroke-width="3" stroke-linecap="round"/>
<line x1="550.2" y1="307.8" x2="550.2" y2="335.2" stroke="#0c00ff" stroke-width="3" stroke-linecap="round"/>
<line x1="556.9" y1="307.8" x2="556.9" y2="335.8" stroke="#0c00ff" stroke-width="3" stroke-linecap="round"/>
<line x1="563.5" y1="307.8" x2="563.5" y2="337.1" stroke="#0c00ff" stroke-width="3" stroke-linecap="round"/>
<line x1="570.7" y1="307.8" x2="570.7" y2="341.6" stroke="#0c00ff" stroke-width="3" stroke-linecap="round"/>
<line x1="577.1" y1="307.8" x2="577.1" y2="331.3" stroke="#0c00ff" stroke-width="3" stroke-linecap="round"/>
<line x1="584" y1="307.8" x2="584" y2="330" stroke="#0c00ff" stroke-width="3" stroke-linecap="round"/>
<line x1="87.4" y1="387.8" x2="128.8" y2="387.8" stroke="#ff1e0c" stroke-width="3.5" stroke-linecap="round"/>
<line x1="92.5" y1="387.8" x2="92.5" y2="368.4" stroke="#ff1e0c" stroke-width="3" stroke-linecap="round"/>
<line x1="99.3" y1="387.8" x2="99.3" y2="367.6" stroke="#ff1e0c" stroke-width="3" stroke-linecap="round"/>
<line x1="105.7" y1="387.8" x2="105.7" y2="368.8" stroke="#ff1e0c" stroke-width="3" stroke-linecap="round"/>
<line x1="112.6" y1="387.8" x2="112.6" y2="368" stroke="#ff1e0c" stroke-width="3" stroke-linecap="round"/>
<line x1="119.3" y1="387.8" x2="119.3" y2="371.2" stroke="#ff1e0c" stroke-width="3" stroke-linecap="round"/>
<line x1="126.3" y1="387.8" x2="126.3" y2="368.3" stroke="#ff1e0c" stroke-width="3" stroke-linecap="round"/>
<line x1="90.9" y1="387.8" x2="90.9" y2="422.8" stroke="#ff1e0c" stroke-width="3" stroke-linecap="round"/>
<line x1="97.7" y1="387.8" x2="97.7" y2="421.5" stroke="#ff1e0c" stroke-width="3" stroke-linecap="round"/>
<line x1="104.6" y1="387.8" x2="104.6" y2="420" stroke="#ff1e0c" stroke-width="3" stroke-linecap="round"/>
<line x1="111.3" y1="387.8" x2="111.3" y2="423.6" stroke="#ff1e0c" stroke-width="3" stroke-linecap="round"/>
<line x1="118.2" y1="387.8" x2="118.2" y2="425.2" stroke="#ff1e0c" stroke-width="3" stroke-linecap="round"/>
<line x1="125" y1="387.8" x2="125" y2="414.7" stroke="#ff1e0c" stroke-width="3" stroke-linecap="round"/>
<line x1="137.8" y1="387.8" x2="179.6" y2="387.8" stroke="#ff1e0c" stroke-width="3.5" stroke-linecap="round"/>
<line x1="142.6" y1="387.8" x2="142.6" y2="361.5" stroke="#ff1e0c" stroke-width="3" stroke-linecap="round"/>
<line x1="149.5" y1="387.8" x2="149.5" y2="358.3" stroke="#ff1e0c" stroke-width="3" stroke-linecap="round"/>
<line x1="156.3" y1="387.8" x2="156.3" y2="361.5" stroke="#ff1e0c" stroke-width="3" stroke-linecap="round"/>
<line x1="163.2" y1="387.8" x2="163.2" y2="361.1" stroke="#ff1e0c" stroke-width="3" stroke-linecap="round"/>
<line x1="169.9" y1="387.8" x2="169.9" y2="358.8" stroke="#ff1e0c" stroke-width="3" stroke-linecap="round"/>
<line x1="176.7" y1="387.8" x2="176.7" y2="362" stroke="#ff1e0c" stroke-width="3" stroke-linecap="round"/>
<line x1="141.5" y1="387.8" x2="141.5" y2="409.6" stroke="#ff1e0c" stroke-width="3" stroke-linecap="round"/>
<line x1="148.3" y1="387.8" x2="148.3" y2="409.6" stroke="#ff1e0c" stroke-width="3" stroke-linecap="round"/>
<line x1="155.2" y1="387.8" x2="155.2" y2="414.4" stroke="#ff1e0c" stroke-width="3" stroke-linecap="round"/>
<line x1="161.9" y1="387.8" x2="161.9" y2="413.1" stroke="#ff1e0c" stroke-width="3" stroke-linecap="round"/>
<line x1="168.6" y1="387.8" x2="168.6" y2="412.8" stroke="#ff1e0c" stroke-width="3" stroke-linecap="round"/>
<line x1="175.6" y1="387.8" x2="175.6" y2="412.8" stroke="#ff1e0c" stroke-width="3" stroke-linecap="round"/>
<line x1="189" y1="387.8" x2="230.4" y2="387.8" stroke="#ff1e0c" stroke-width="3.5" stroke-linecap="round"/>
<line x1="192.8" y1="387.8" x2="192.8" y2="375.9" stroke="#ff1e0c" stroke-width="3" stroke-linecap="round"/>
<line x1="199.6" y1="387.8" x2="199.6" y2="373.6" stroke="#ff1e0c" stroke-width="3" stroke-linecap="round"/>
<line x1="206.5" y1="387.8" x2="206.5" y2="375.6" stroke="#ff1e0c" stroke-width="3" stroke-linecap="round"/>
<line x1="213.2" y1="387.8" x2="213.2" y2="375.6" stroke="#ff1e0c" stroke-width="3" stroke-linecap="round"/>
<line x1="219.8" y1="387.8" x2="219.8" y2="373.6" stroke="#ff1e0c" stroke-width="3" stroke-linecap="round"/>
<line x1="226.6" y1="387.8" x2="226.6" y2="375.2" stroke="#ff1e0c" stroke-width="3" stroke-linecap="round"/>
<line x1="191.6" y1="387.8" x2="191.6" y2="398.2" stroke="#ff1e0c" stroke-width="3" stroke-linecap="round"/>
<line x1="198.4" y1="387.8" x2="198.4" y2="397.1" stroke="#ff1e0c" stroke-width="3" stroke-linecap="round"/>
<line x1="205.3" y1="387.8" x2="205.3" y2="397.1" stroke="#ff1e0c" stroke-width="3" stroke-linecap="round"/>
<line x1="212" y1="387.8" x2="212" y2="397.1" stroke="#ff1e0c" stroke-width="3" stroke-linecap="round"/>
<line x1="218.6" y1="387.8" x2="218.6" y2="397.1" stroke="#ff1e0c" stroke-width="3" stroke-linecap="round"/>
<line x1="225.4" y1="387.8" x2="225.4" y2="398.2" stroke="#ff1e0c" stroke-width="3" stroke-linecap="round"/>
<line x1="239.9" y1="387.8" x2="281.2" y2="387.8" stroke="#ff1e0c" stroke-width="3.5" stroke-linecap="round"/>
<line x1="243.9" y1="387.8" x2="243.9" y2="380.7" stroke="#ff1e0c" stroke-width="3" stroke-linecap="round"/>
<line x1="250.7" y1="387.8" x2="250.7" y2="378.4" stroke="#ff1e0c" stroke-width="3" stroke-linecap="round"/>
<line x1="257.4" y1="387.8" x2="257.4" y2="378.4" stroke="#ff1e0c" stroke-width="3" stroke-linecap="round"/>
<line x1="264.3" y1="387.8" x2="264.3" y2="378.4" stroke="#ff1e0c" stroke-width="3" stroke-linecap="round"/>
<line x1="271.2" y1="387.8" x2="271.2" y2="377.6" stroke="#ff1e0c" stroke-width="3" stroke-linecap="round"/>
<line x1="277.6" y1="387.8" x2="277.6" y2="378.4" stroke="#ff1e0c" stroke-width="3" stroke-linecap="round"/>
<line x1="242.9" y1="387.8" x2="242.9" y2="395.5" stroke="#ff1e0c" stroke-width="3" stroke-linecap="round"/>
<line x1="249.7" y1="387.8" x2="249.7" y2="397.1" stroke="#ff1e0c" stroke-width="3" stroke-linecap="round"/>
<line x1="256.4" y1="387.8" x2="256.4" y2="397.1" stroke="#ff1e0c" stroke-width="3" stroke-linecap="round"/>
<line x1="263.3" y1="387.8" x2="263.3" y2="397.1" stroke="#ff1e0c" stroke-width="3" stroke-linecap="round"/>
<line x1="270.2" y1="387.8" x2="270.2" y2="397.1" stroke="#ff1e0c" stroke-width="3" stroke-linecap="round"/>
<line x1="276.6" y1="387.8" x2="276.6" y2="396.2" stroke="#ff1e0c" stroke-width="3" stroke-linecap="round"/>
<line x1="290.6" y1="387.8" x2="332" y2="387.8" stroke="#ff1e0c" stroke-width="3.5" stroke-linecap="round"/>
<line x1="292.5" y1="387.8" x2="292.5" y2="374.8" stroke="#ff1e0c" stroke-width="3" stroke-linecap="round"/>
<line x1="299.3" y1="387.8" x2="299.3" y2="376.4" stroke="#ff1e0c" stroke-width="3" stroke-linecap="round"/>
<line x1="306.2" y1="387.8" x2="306.2" y2="377.5" stroke="#ff1e0c" stroke-width="3" stroke-linecap="round"/>
<line x1="312.9" y1="387.8" x2="312.9" y2="374.8" stroke="#ff1e0c" stroke-width="3" stroke-linecap="round"/>
<line x1="319.7" y1="387.8" x2="319.7" y2="375.2" stroke="#ff1e0c" stroke-width="3" stroke-linecap="round"/>
<line x1="326.3" y1="387.8" x2="326.3" y2="377.2" stroke="#ff1e0c" stroke-width="3" stroke-linecap="round"/>
<line x1="291" y1="387.8" x2="291" y2="391.8" stroke="#ff1e0c" stroke-width="3" stroke-linecap="round"/>
<line x1="298" y1="387.8" x2="298" y2="392.9" stroke="#ff1e0c" stroke-width="3" stroke-linecap="round"/>
<line x1="304.6" y1="387.8" x2="304.6" y2="394.6" stroke="#ff1e0c" stroke-width="3" stroke-linecap="round"/>
<line x1="311.5" y1="387.8" x2="311.5" y2="391.8" stroke="#ff1e0c" stroke-width="3" stroke-linecap="round"/>
<line x1="318.3" y1="387.8" x2="318.3" y2="392.9" stroke="#ff1e0c" stroke-width="3" stroke-linecap="round"/>
<line x1="325" y1="387.8" x2="325" y2="391" stroke="#ff1e0c" stroke-width="3" stroke-linecap="round"/>
<line x1="332.2" y1="387.8" x2="332.2" y2="391" stroke="#ff1e0c" stroke-width="3" stroke-linecap="round"/>
<line x1="341.5" y1="387.8" x2="382.8" y2="387.8" stroke="#ff1e0c" stroke-width="3.5" stroke-linecap="round"/>
<line x1="345.5" y1="387.8" x2="345.5" y2="380.7" stroke="#ff1e0c" stroke-width="3" stroke-linecap="round"/>
<line x1="352.3" y1="387.8" x2="352.3" y2="380.7" stroke="#ff1e0c" stroke-width="3" stroke-linecap="round"/>
<line x1="359.2" y1="387.8" x2="359.2" y2="382.5" stroke="#ff1e0c" stroke-width="3" stroke-linecap="round"/>
<line x1="365.9" y1="387.8" x2="365.9" y2="380.7" stroke="#ff1e0c" stroke-width="3" stroke-linecap="round"/>
<line x1="372.7" y1="387.8" x2="372.7" y2="380.7" stroke="#ff1e0c" stroke-width="3" stroke-linecap="round"/>
<line x1="379.6" y1="387.8" x2="379.6" y2="380.7" stroke="#ff1e0c" stroke-width="3" stroke-linecap="round"/>
<line x1="344.7" y1="387.8" x2="344.7" y2="392.3" stroke="#ff1e0c" stroke-width="3" stroke-linecap="round"/>
<line x1="351.5" y1="387.8" x2="351.5" y2="393.4" stroke="#ff1e0c" stroke-width="3" stroke-linecap="round"/>
<line x1="358.4" y1="387.8" x2="358.4" y2="393.4" stroke="#ff1e0c" stroke-width="3" stroke-linecap="round"/>
<line x1="365.1" y1="387.8" x2="365.1" y2="393.4" stroke="#ff1e0c" stroke-width="3" stroke-linecap="round"/>
<line x1="371.9" y1="387.8" x2="371.9" y2="393.4" stroke="#ff1e0c" stroke-width="3" stroke-linecap="round"/>
<line x1="378.8" y1="387.8" x2="378.8" y2="392.9" stroke="#ff1e0c" stroke-width="3" stroke-linecap="round"/>
<line x1="392.2" y1="387.8" x2="433.3" y2="387.8" stroke="#ff1e0c" stroke-width="3.5" stroke-linecap="round"/>
<line x1="396.1" y1="387.8" x2="396.1" y2="382.3" stroke="#ff1e0c" stroke-width="3" stroke-linecap="round"/>
<line x1="403" y1="387.8" x2="403" y2="380.7" stroke="#ff1e0c" stroke-width="3" stroke-linecap="round"/>
<line x1="409.7" y1="387.8" x2="409.7" y2="381.7" stroke="#ff1e0c" stroke-width="3" stroke-linecap="round"/>
<line x1="416.6" y1="387.8" x2="416.6" y2="381.7" stroke="#ff1e0c" stroke-width="3" stroke-linecap="round"/>
<line x1="423.4" y1="387.8" x2="423.4" y2="380.7" stroke="#ff1e0c" stroke-width="3" stroke-linecap="round"/>
<line x1="430.1" y1="387.8" x2="430.1" y2="382" stroke="#ff1e0c" stroke-width="3" stroke-linecap="round"/>
<line x1="395.1" y1="387.8" x2="395.1" y2="395" stroke="#ff1e0c" stroke-width="3" stroke-linecap="round"/>
<line x1="402" y1="387.8" x2="402" y2="398.7" stroke="#ff1e0c" stroke-width="3" stroke-linecap="round"/>
<line x1="408.7" y1="387.8" x2="408.7" y2="396.2" stroke="#ff1e0c" stroke-width="3" stroke-linecap="round"/>
<line x1="415.6" y1="387.8" x2="415.6" y2="398.2" stroke="#ff1e0c" stroke-width="3" stroke-linecap="round"/>
<line x1="422.4" y1="387.8" x2="422.4" y2="397.8" stroke="#ff1e0c" stroke-width="3" stroke-linecap="round"/>
<line x1="429.1" y1="387.8" x2="429.1" y2="399.9" stroke="#ff1e0c" stroke-width="3" stroke-linecap="round"/>
<line x1="443.1" y1="387.8" x2="484.4" y2="387.8" stroke="#ff1e0c" stroke-width="3.5" stroke-linecap="round"/>
<line x1="446.2" y1="387.8" x2="446.2" y2="385.1" stroke="#ff1e0c" stroke-width="3" stroke-linecap="round"/>
<line x1="453.1" y1="387.8" x2="453.1" y2="385.1" stroke="#ff1e0c" stroke-width="3" stroke-linecap="round"/>
<line x1="460" y1="387.8" x2="460" y2="385.1" stroke="#ff1e0c" stroke-width="3" stroke-linecap="round"/>
<line x1="466.7" y1="387.8" x2="466.7" y2="385.1" stroke="#ff1e0c" stroke-width="3" stroke-linecap="round"/>
<line x1="473.6" y1="387.8" x2="473.6" y2="385.1" stroke="#ff1e0c" stroke-width="3" stroke-linecap="round"/>
<line x1="480.4" y1="387.8" x2="480.4" y2="385.1" stroke="#ff1e0c" stroke-width="3" stroke-linecap="round"/>
<line x1="446.2" y1="387.8" x2="446.2" y2="390.2" stroke="#ff1e0c" stroke-width="3" stroke-linecap="round"/>
<line x1="453.1" y1="387.8" x2="453.1" y2="390.2" stroke="#ff1e0c" stroke-width="3" stroke-linecap="round"/>
<line x1="460" y1="387.8" x2="460" y2="390.2" stroke="#ff1e0c" stroke-width="3" stroke-linecap="round"/>
<line x1="466.7" y1="387.8" x2="466.7" y2="390.2" stroke="#ff1e0c" stroke-width="3" stroke-linecap="round"/>
<line x1="473.6" y1="387.8" x2="473.6" y2="390.2" stroke="#ff1e0c" stroke-width="3" stroke-linecap="round"/>
<line x1="480.4" y1="387.8" x2="480.4" y2="390.2" stroke="#ff1e0c" stroke-width="3" stroke-linecap="round"/>
<line x1="493.5" y1="387.8" x2="535.1" y2="387.8" stroke="#ff1e0c" stroke-width="3.5" stroke-linecap="round"/>
<line x1="497.5" y1="387.8" x2="497.5" y2="385.1" stroke="#ff1e0c" stroke-width="3" stroke-linecap="round"/>
<line x1="504.3" y1="387.8" x2="504.3" y2="385.1" stroke="#ff1e0c" stroke-width="3" stroke-linecap="round"/>
<line x1="510.7" y1="387.8" x2="510.7" y2="385.1" stroke="#ff1e0c" stroke-width="3" stroke-linecap="round"/>
<line x1="517.9" y1="387.8" x2="517.9" y2="385.1" stroke="#ff1e0c" stroke-width="3" stroke-linecap="round"/>
<line x1="524.8" y1="387.8" x2="524.8" y2="385.1" stroke="#ff1e0c" stroke-width="3" stroke-linecap="round"/>
<line x1="531.6" y1="387.8" x2="531.6" y2="385.1" stroke="#ff1e0c" stroke-width="3" stroke-linecap="round"/>
<line x1="498.5" y1="387.8" x2="498.5" y2="392.6" stroke="#ff1e0c" stroke-width="3" stroke-linecap="round"/>
<line x1="505.5" y1="387.8" x2="505.5" y2="393.1" stroke="#ff1e0c" stroke-width="3" stroke-linecap="round"/>
<line x1="512" y1="387.8" x2="512" y2="394.6" stroke="#ff1e0c" stroke-width="3" stroke-linecap="round"/>
<line x1="518.9" y1="387.8" x2="518.9" y2="393.1" stroke="#ff1e0c" stroke-width="3" stroke-linecap="round"/>
<line x1="525.8" y1="387.8" x2="525.8" y2="392.9" stroke="#ff1e0c" stroke-width="3" stroke-linecap="round"/>
<line x1="532.6" y1="387.8" x2="532.6" y2="393.1" stroke="#ff1e0c" stroke-width="3" stroke-linecap="round"/>
<line x1="544.4" y1="387.8" x2="585.7" y2="387.8" stroke="#ff1e0c" stroke-width="3.5" stroke-linecap="round"/>
<line x1="548.9" y1="387.8" x2="548.9" y2="384.4" stroke="#ff1e0c" stroke-width="3" stroke-linecap="round"/>
<line x1="555.7" y1="387.8" x2="555.7" y2="385.1" stroke="#ff1e0c" stroke-width="3" stroke-linecap="round"/>
<line x1="562.9" y1="387.8" x2="562.9" y2="385.6" stroke="#ff1e0c" stroke-width="3" stroke-linecap="round"/>
<line x1="569.3" y1="387.8" x2="569.3" y2="383.9" stroke="#ff1e0c" stroke-width="3" stroke-linecap="round"/>
<line x1="576.2" y1="387.8" x2="576.2" y2="385.1" stroke="#ff1e0c" stroke-width="3" stroke-linecap="round"/>
<line x1="583" y1="387.8" x2="583" y2="385.2" stroke="#ff1e0c" stroke-width="3" stroke-linecap="round"/>
<line x1="549.5" y1="387.8" x2="549.5" y2="391" stroke="#ff1e0c" stroke-width="3" stroke-linecap="round"/>
<line x1="556.5" y1="387.8" x2="556.5" y2="393.9" stroke="#ff1e0c" stroke-width="3" stroke-linecap="round"/>
<line x1="563.5" y1="387.8" x2="563.5" y2="392.6" stroke="#ff1e0c" stroke-width="3" stroke-linecap="round"/>
<line x1="570" y1="387.8" x2="570" y2="392.6" stroke="#ff1e0c" stroke-width="3" stroke-linecap="round"/>
<line x1="577" y1="387.8" x2="577" y2="392.9" stroke="#ff1e0c" stroke-width="3" stroke-linecap="round"/>
<line x1="583.8" y1="387.8" x2="583.8" y2="392.6" stroke="#ff1e0c" stroke-width="3" stroke-linecap="round"/>
<path d="M70.2,345.9V263.8H594.7V345.9" fill="none" stroke="#111" stroke-width="1.4"/>
<path d="M70.2,355V436.4H594.7V355" fill="none" stroke="#111" stroke-width="1.4"/>
<line x1="70.2" y1="270.2" x2="73.2" y2="270.2" stroke="#000" stroke-width="1.1" stroke-linecap="butt"/>
<line x1="70.2" y1="282.7" x2="75.2" y2="282.7" stroke="#000" stroke-width="1.1" stroke-linecap="butt"/>
<line x1="70.2" y1="295.2" x2="73.2" y2="295.2" stroke="#000" stroke-width="1.1" stroke-linecap="butt"/>
<line x1="70.2" y1="307.7" x2="75.2" y2="307.7" stroke="#000" stroke-width="1.1" stroke-linecap="butt"/>
<line x1="70.2" y1="320.2" x2="73.2" y2="320.2" stroke="#000" stroke-width="1.1" stroke-linecap="butt"/>
<line x1="70.2" y1="332.7" x2="75.2" y2="332.7" stroke="#000" stroke-width="1.1" stroke-linecap="butt"/>
<line x1="70.2" y1="345.2" x2="73.2" y2="345.2" stroke="#000" stroke-width="1.1" stroke-linecap="butt"/>
<text x="64.6" y="287" font-size="12" fill="#000" text-anchor="end">4</text>
<text x="64.6" y="312" font-size="12" fill="#000" text-anchor="end">0</text>
<text x="64.6" y="337" font-size="12" fill="#000" text-anchor="end">-4</text>
<line x1="70.2" y1="361.48" x2="75.2" y2="361.48" stroke="#000" stroke-width="1.1" stroke-linecap="butt"/>
<line x1="70.2" y1="374.64" x2="73.2" y2="374.64" stroke="#000" stroke-width="1.1" stroke-linecap="butt"/>
<line x1="70.2" y1="387.8" x2="75.2" y2="387.8" stroke="#000" stroke-width="1.1" stroke-linecap="butt"/>
<line x1="70.2" y1="400.96" x2="73.2" y2="400.96" stroke="#000" stroke-width="1.1" stroke-linecap="butt"/>
<line x1="70.2" y1="414.12" x2="75.2" y2="414.12" stroke="#000" stroke-width="1.1" stroke-linecap="butt"/>
<line x1="70.2" y1="427.28" x2="73.2" y2="427.28" stroke="#000" stroke-width="1.1" stroke-linecap="butt"/>
<text x="64.6" y="365.78" font-size="12" fill="#000" text-anchor="end">4</text>
<text x="64.6" y="392.1" font-size="12" fill="#000" text-anchor="end">0</text>
<text x="64.6" y="418.42" font-size="12" fill="#000" text-anchor="end">-4</text>
<line x1="102.3" y1="439.2" x2="102.3" y2="433.3" stroke="#000" stroke-width="1.5" stroke-linecap="butt"/>
<line x1="156.6" y1="439.2" x2="156.6" y2="433.3" stroke="#000" stroke-width="1.5" stroke-linecap="butt"/>
<line x1="207.4" y1="439.2" x2="207.4" y2="433.3" stroke="#000" stroke-width="1.5" stroke-linecap="butt"/>
<line x1="261" y1="439.2" x2="261" y2="433.3" stroke="#000" stroke-width="1.5" stroke-linecap="butt"/>
<line x1="311.1" y1="439.2" x2="311.1" y2="433.3" stroke="#000" stroke-width="1.5" stroke-linecap="butt"/>
<line x1="362.9" y1="439.2" x2="362.9" y2="433.3" stroke="#000" stroke-width="1.5" stroke-linecap="butt"/>
<line x1="414.3" y1="439.2" x2="414.3" y2="433.3" stroke="#000" stroke-width="1.5" stroke-linecap="butt"/>
<line x1="463.9" y1="439.2" x2="463.9" y2="433.3" stroke="#000" stroke-width="1.5" stroke-linecap="butt"/>
<line x1="513.8" y1="439.2" x2="513.8" y2="433.3" stroke="#000" stroke-width="1.5" stroke-linecap="butt"/>
<line x1="567.3" y1="439.2" x2="567.3" y2="433.3" stroke="#000" stroke-width="1.5" stroke-linecap="butt"/>
<text x="101.5" y="456.5" font-size="14.2" fill="#000" text-anchor="middle" textLength="36" lengthAdjust="spacingAndGlyphs">PTFE</text>
<text x="157.4" y="456.5" font-size="14.2" fill="#000" text-anchor="middle" textLength="37.4" lengthAdjust="spacingAndGlyphs">PVDF</text>
<text x="208" y="456.5" font-size="14.2" fill="#000" text-anchor="middle" textLength="48.9" lengthAdjust="spacingAndGlyphs">Kapton</text>
<text x="259.4" y="456.5" font-size="14.2" fill="#000" text-anchor="middle" textLength="28.2" lengthAdjust="spacingAndGlyphs">PET</text>
<text x="308.8" y="456.5" font-size="14.2" fill="#000" text-anchor="middle" textLength="45" lengthAdjust="spacingAndGlyphs">PMMA</text>
<text x="362.7" y="456.5" font-size="14.2" fill="#000" text-anchor="middle" textLength="40.8" lengthAdjust="spacingAndGlyphs">Paper</text>
<text x="412.2" y="456.5" font-size="14.2" fill="#000" text-anchor="middle" textLength="13.3" lengthAdjust="spacingAndGlyphs">Al</text>
<text x="463.5" y="456.5" font-size="14.2" fill="#000" text-anchor="middle" textLength="38.7" lengthAdjust="spacingAndGlyphs">Glass</text>
<text x="512.1" y="456.5" font-size="14.2" fill="#000" text-anchor="middle" textLength="27.8" lengthAdjust="spacingAndGlyphs">TPU</text>
<text x="568.2" y="456.5" font-size="14.2" fill="#000" text-anchor="middle" textLength="53.4" lengthAdjust="spacingAndGlyphs">Nylon11</text>
<text x="597.8" y="315.7" font-size="14.6" fill="#0c00ff" textLength="41" lengthAdjust="spacingAndGlyphs">PDMS</text>
<text x="598.2" y="395.6" font-size="14.3" fill="#ff1e0c" textLength="86.4" lengthAdjust="spacingAndGlyphs">PEI(b)-PDMS</text>
<text x="48.3" y="348.4" font-size="18.6" fill="#000" text-anchor="middle" textLength="92.8" lengthAdjust="spacingAndGlyphs" transform="rotate(-90 48.3 348.4)">Voltage(V)</text>
<text x="0.1" y="480.4" font-size="14.2" fill="#000" textLength="17.6" lengthAdjust="spacingAndGlyphs">(d)</text>
<text x="315.2" y="494.4" font-size="14" fill="#000" textLength="91" lengthAdjust="spacingAndGlyphs">Humidity 50%</text>
<line x1="134.5" y1="504.8" x2="134.5" y2="674.9" stroke="#111" stroke-width="1.4" stroke-linecap="butt" stroke-dasharray="5.9 2.5 1.6 3.27"/>
<line x1="184.9" y1="504.8" x2="184.9" y2="674.9" stroke="#111" stroke-width="1.4" stroke-linecap="butt" stroke-dasharray="5.9 2.5 1.6 3.27"/>
<line x1="236.2" y1="504.8" x2="236.2" y2="674.9" stroke="#111" stroke-width="1.4" stroke-linecap="butt" stroke-dasharray="5.9 2.5 1.6 3.27"/>
<line x1="285.3" y1="504.8" x2="285.3" y2="674.9" stroke="#111" stroke-width="1.4" stroke-linecap="butt" stroke-dasharray="5.9 2.5 1.6 3.27"/>
<line x1="337.7" y1="504.8" x2="337.7" y2="674.9" stroke="#111" stroke-width="1.4" stroke-linecap="butt" stroke-dasharray="5.9 2.5 1.6 3.27"/>
<line x1="387.8" y1="504.8" x2="387.8" y2="674.9" stroke="#111" stroke-width="1.4" stroke-linecap="butt" stroke-dasharray="5.9 2.5 1.6 3.27"/>
<line x1="437.8" y1="504.8" x2="437.8" y2="674.9" stroke="#111" stroke-width="1.4" stroke-linecap="butt" stroke-dasharray="5.9 2.5 1.6 3.27"/>
<line x1="490" y1="504.8" x2="490" y2="674.9" stroke="#111" stroke-width="1.4" stroke-linecap="butt" stroke-dasharray="5.9 2.5 1.6 3.27"/>
<line x1="540" y1="504.8" x2="540" y2="674.9" stroke="#111" stroke-width="1.4" stroke-linecap="butt" stroke-dasharray="5.9 2.5 1.6 3.27"/>
<line x1="87.7" y1="549.1" x2="128.8" y2="549.1" stroke="#0c00ff" stroke-width="3.5" stroke-linecap="round"/>
<line x1="91.6" y1="549.1" x2="91.6" y2="543" stroke="#0c00ff" stroke-width="3" stroke-linecap="round"/>
<line x1="98.5" y1="549.1" x2="98.5" y2="543" stroke="#0c00ff" stroke-width="3" stroke-linecap="round"/>
<line x1="104.9" y1="549.1" x2="104.9" y2="543.4" stroke="#0c00ff" stroke-width="3" stroke-linecap="round"/>
<line x1="111.6" y1="549.1" x2="111.6" y2="543" stroke="#0c00ff" stroke-width="3" stroke-linecap="round"/>
<line x1="118.5" y1="549.1" x2="118.5" y2="541.8" stroke="#0c00ff" stroke-width="3" stroke-linecap="round"/>
<line x1="125.4" y1="549.1" x2="125.4" y2="542.5" stroke="#0c00ff" stroke-width="3" stroke-linecap="round"/>
<line x1="90.6" y1="549.1" x2="90.6" y2="552.8" stroke="#0c00ff" stroke-width="3" stroke-linecap="round"/>
<line x1="97.5" y1="549.1" x2="97.5" y2="553.3" stroke="#0c00ff" stroke-width="3" stroke-linecap="round"/>
<line x1="103.9" y1="549.1" x2="103.9" y2="553.3" stroke="#0c00ff" stroke-width="3" stroke-linecap="round"/>
<line x1="110.6" y1="549.1" x2="110.6" y2="553.3" stroke="#0c00ff" stroke-width="3" stroke-linecap="round"/>
<line x1="117.5" y1="549.1" x2="117.5" y2="553.3" stroke="#0c00ff" stroke-width="3" stroke-linecap="round"/>
<line x1="124.4" y1="549.1" x2="124.4" y2="552.9" stroke="#0c00ff" stroke-width="3" stroke-linecap="round"/>
<line x1="137.8" y1="549.1" x2="179.9" y2="549.1" stroke="#0c00ff" stroke-width="3.5" stroke-linecap="round"/>
<line x1="142.6" y1="549.1" x2="142.6" y2="545.1" stroke="#0c00ff" stroke-width="3" stroke-linecap="round"/>
<line x1="149.4" y1="549.1" x2="149.4" y2="543.4" stroke="#0c00ff" stroke-width="3" stroke-linecap="round"/>
<line x1="156.3" y1="549.1" x2="156.3" y2="545.1" stroke="#0c00ff" stroke-width="3" stroke-linecap="round"/>
<line x1="163" y1="549.1" x2="163" y2="545.1" stroke="#0c00ff" stroke-width="3" stroke-linecap="round"/>
<line x1="169.9" y1="549.1" x2="169.9" y2="545.1" stroke="#0c00ff" stroke-width="3" stroke-linecap="round"/>
<line x1="176.8" y1="549.1" x2="176.8" y2="543.4" stroke="#0c00ff" stroke-width="3" stroke-linecap="round"/>
<line x1="141.6" y1="549.1" x2="141.6" y2="554.1" stroke="#0c00ff" stroke-width="3" stroke-linecap="round"/>
<line x1="148.4" y1="549.1" x2="148.4" y2="554.1" stroke="#0c00ff" stroke-width="3" stroke-linecap="round"/>
<line x1="155.3" y1="549.1" x2="155.3" y2="554.1" stroke="#0c00ff" stroke-width="3" stroke-linecap="round"/>
<line x1="162" y1="549.1" x2="162" y2="554.1" stroke="#0c00ff" stroke-width="3" stroke-linecap="round"/>
<line x1="168.9" y1="549.1" x2="168.9" y2="554.1" stroke="#0c00ff" stroke-width="3" stroke-linecap="round"/>
<line x1="175.8" y1="549.1" x2="175.8" y2="554.1" stroke="#0c00ff" stroke-width="3" stroke-linecap="round"/>
<line x1="189" y1="549.1" x2="230.4" y2="549.1" stroke="#0c00ff" stroke-width="3.5" stroke-linecap="round"/>
<line x1="192" y1="549.1" x2="192" y2="538.1" stroke="#0c00ff" stroke-width="3" stroke-linecap="round"/>
<line x1="198.5" y1="549.1" x2="198.5" y2="541.4" stroke="#0c00ff" stroke-width="3" stroke-linecap="round"/>
<line x1="205.4" y1="549.1" x2="205.4" y2="542.2" stroke="#0c00ff" stroke-width="3" stroke-linecap="round"/>
<line x1="212.1" y1="549.1" x2="212.1" y2="538.6" stroke="#0c00ff" stroke-width="3" stroke-linecap="round"/>
<line x1="218.5" y1="549.1" x2="218.5" y2="538.9" stroke="#0c00ff" stroke-width="3" stroke-linecap="round"/>
<line x1="225.8" y1="549.1" x2="225.8" y2="538.1" stroke="#0c00ff" stroke-width="3" stroke-linecap="round"/>
<line x1="192.5" y1="549.1" x2="192.5" y2="556" stroke="#0c00ff" stroke-width="3" stroke-linecap="round"/>
<line x1="199" y1="549.1" x2="199" y2="557.6" stroke="#0c00ff" stroke-width="3" stroke-linecap="round"/>
<line x1="205.9" y1="549.1" x2="205.9" y2="557.6" stroke="#0c00ff" stroke-width="3" stroke-linecap="round"/>
<line x1="212.6" y1="549.1" x2="212.6" y2="558.4" stroke="#0c00ff" stroke-width="3" stroke-linecap="round"/>
<line x1="219" y1="549.1" x2="219" y2="557.6" stroke="#0c00ff" stroke-width="3" stroke-linecap="round"/>
<line x1="226.3" y1="549.1" x2="226.3" y2="557.9" stroke="#0c00ff" stroke-width="3" stroke-linecap="round"/>
<line x1="239.9" y1="549.1" x2="281.2" y2="549.1" stroke="#0c00ff" stroke-width="3.5" stroke-linecap="round"/>
<line x1="242.6" y1="549.1" x2="242.6" y2="541.8" stroke="#0c00ff" stroke-width="3" stroke-linecap="round"/>
<line x1="249.1" y1="549.1" x2="249.1" y2="541.8" stroke="#0c00ff" stroke-width="3" stroke-linecap="round"/>
<line x1="255.8" y1="549.1" x2="255.8" y2="541.8" stroke="#0c00ff" stroke-width="3" stroke-linecap="round"/>
<line x1="262.7" y1="549.1" x2="262.7" y2="543.4" stroke="#0c00ff" stroke-width="3" stroke-linecap="round"/>
<line x1="269.4" y1="549.1" x2="269.4" y2="541.4" stroke="#0c00ff" stroke-width="3" stroke-linecap="round"/>
<line x1="276.4" y1="549.1" x2="276.4" y2="542.2" stroke="#0c00ff" stroke-width="3" stroke-linecap="round"/>
<line x1="243.1" y1="549.1" x2="243.1" y2="557.6" stroke="#0c00ff" stroke-width="3" stroke-linecap="round"/>
<line x1="249.6" y1="549.1" x2="249.6" y2="557.6" stroke="#0c00ff" stroke-width="3" stroke-linecap="round"/>
<line x1="256.3" y1="549.1" x2="256.3" y2="557.6" stroke="#0c00ff" stroke-width="3" stroke-linecap="round"/>
<line x1="263.2" y1="549.1" x2="263.2" y2="559.6" stroke="#0c00ff" stroke-width="3" stroke-linecap="round"/>
<line x1="269.9" y1="549.1" x2="269.9" y2="557.6" stroke="#0c00ff" stroke-width="3" stroke-linecap="round"/>
<line x1="276.9" y1="549.1" x2="276.9" y2="558.4" stroke="#0c00ff" stroke-width="3" stroke-linecap="round"/>
<line x1="290.6" y1="549.1" x2="332" y2="549.1" stroke="#0c00ff" stroke-width="3.5" stroke-linecap="round"/>
<line x1="291.2" y1="549.1" x2="291.2" y2="543" stroke="#0c00ff" stroke-width="3" stroke-linecap="round"/>
<line x1="297.7" y1="549.1" x2="297.7" y2="542.6" stroke="#0c00ff" stroke-width="3" stroke-linecap="round"/>
<line x1="304.6" y1="549.1" x2="304.6" y2="543" stroke="#0c00ff" stroke-width="3" stroke-linecap="round"/>
<line x1="311.3" y1="549.1" x2="311.3" y2="545.1" stroke="#0c00ff" stroke-width="3" stroke-linecap="round"/>
<line x1="318.2" y1="549.1" x2="318.2" y2="543" stroke="#0c00ff" stroke-width="3" stroke-linecap="round"/>
<line x1="325" y1="549.1" x2="325" y2="544.1" stroke="#0c00ff" stroke-width="3" stroke-linecap="round"/>
<line x1="331.4" y1="549.1" x2="331.4" y2="545.4" stroke="#0c00ff" stroke-width="3" stroke-linecap="round"/>
<line x1="292.5" y1="549.1" x2="292.5" y2="554.7" stroke="#0c00ff" stroke-width="3" stroke-linecap="round"/>
<line x1="299" y1="549.1" x2="299" y2="555.7" stroke="#0c00ff" stroke-width="3" stroke-linecap="round"/>
<line x1="306" y1="549.1" x2="306" y2="557.9" stroke="#0c00ff" stroke-width="3" stroke-linecap="round"/>
<line x1="312.5" y1="549.1" x2="312.5" y2="554.7" stroke="#0c00ff" stroke-width="3" stroke-linecap="round"/>
<line x1="319.5" y1="549.1" x2="319.5" y2="556" stroke="#0c00ff" stroke-width="3" stroke-linecap="round"/>
<line x1="326.3" y1="549.1" x2="326.3" y2="555.2" stroke="#0c00ff" stroke-width="3" stroke-linecap="round"/>
<line x1="341.5" y1="549.1" x2="382.8" y2="549.1" stroke="#0c00ff" stroke-width="3.5" stroke-linecap="round"/>
<line x1="344.6" y1="549.1" x2="344.6" y2="544.6" stroke="#0c00ff" stroke-width="3" stroke-linecap="round"/>
<line x1="351.5" y1="549.1" x2="351.5" y2="542.6" stroke="#0c00ff" stroke-width="3" stroke-linecap="round"/>
<line x1="358.4" y1="549.1" x2="358.4" y2="542.6" stroke="#0c00ff" stroke-width="3" stroke-linecap="round"/>
<line x1="364.8" y1="549.1" x2="364.8" y2="543.4" stroke="#0c00ff" stroke-width="3" stroke-linecap="round"/>
<line x1="371.5" y1="549.1" x2="371.5" y2="541.4" stroke="#0c00ff" stroke-width="3" stroke-linecap="round"/>
<line x1="378.3" y1="549.1" x2="378.3" y2="543" stroke="#0c00ff" stroke-width="3" stroke-linecap="round"/>
<line x1="345.1" y1="549.1" x2="345.1" y2="557.3" stroke="#0c00ff" stroke-width="3" stroke-linecap="round"/>
<line x1="352" y1="549.1" x2="352" y2="557.3" stroke="#0c00ff" stroke-width="3" stroke-linecap="round"/>
<line x1="358.9" y1="549.1" x2="358.9" y2="557.3" stroke="#0c00ff" stroke-width="3" stroke-linecap="round"/>
<line x1="365.3" y1="549.1" x2="365.3" y2="557.3" stroke="#0c00ff" stroke-width="3" stroke-linecap="round"/>
<line x1="372" y1="549.1" x2="372" y2="557.3" stroke="#0c00ff" stroke-width="3" stroke-linecap="round"/>
<line x1="378.8" y1="549.1" x2="378.8" y2="557.6" stroke="#0c00ff" stroke-width="3" stroke-linecap="round"/>
<line x1="392.2" y1="549.1" x2="433.6" y2="549.1" stroke="#0c00ff" stroke-width="3.5" stroke-linecap="round"/>
<line x1="395.3" y1="549.1" x2="395.3" y2="537.8" stroke="#0c00ff" stroke-width="3" stroke-linecap="round"/>
<line x1="402" y1="549.1" x2="402" y2="533.8" stroke="#0c00ff" stroke-width="3" stroke-linecap="round"/>
<line x1="408.6" y1="549.1" x2="408.6" y2="537.8" stroke="#0c00ff" stroke-width="3" stroke-linecap="round"/>
<line x1="415.3" y1="549.1" x2="415.3" y2="537.8" stroke="#0c00ff" stroke-width="3" stroke-linecap="round"/>
<line x1="422.1" y1="549.1" x2="422.1" y2="537.3" stroke="#0c00ff" stroke-width="3" stroke-linecap="round"/>
<line x1="428.7" y1="549.1" x2="428.7" y2="535.1" stroke="#0c00ff" stroke-width="3" stroke-linecap="round"/>
<line x1="396" y1="549.1" x2="396" y2="569.3" stroke="#0c00ff" stroke-width="3" stroke-linecap="round"/>
<line x1="402.8" y1="549.1" x2="402.8" y2="574.1" stroke="#0c00ff" stroke-width="3" stroke-linecap="round"/>
<line x1="409.7" y1="549.1" x2="409.7" y2="567.7" stroke="#0c00ff" stroke-width="3" stroke-linecap="round"/>
<line x1="416.1" y1="549.1" x2="416.1" y2="574.6" stroke="#0c00ff" stroke-width="3" stroke-linecap="round"/>
<line x1="423" y1="549.1" x2="423" y2="566.9" stroke="#0c00ff" stroke-width="3" stroke-linecap="round"/>
<line x1="429.8" y1="549.1" x2="429.8" y2="576.2" stroke="#0c00ff" stroke-width="3" stroke-linecap="round"/>
<line x1="443.1" y1="549.1" x2="484.7" y2="549.1" stroke="#0c00ff" stroke-width="3.5" stroke-linecap="round"/>
<line x1="445.8" y1="549.1" x2="445.8" y2="544.2" stroke="#0c00ff" stroke-width="3" stroke-linecap="round"/>
<line x1="452.7" y1="549.1" x2="452.7" y2="542.6" stroke="#0c00ff" stroke-width="3" stroke-linecap="round"/>
<line x1="459.5" y1="549.1" x2="459.5" y2="542.6" stroke="#0c00ff" stroke-width="3" stroke-linecap="round"/>
<line x1="466.4" y1="549.1" x2="466.4" y2="543.9" stroke="#0c00ff" stroke-width="3" stroke-linecap="round"/>
<line x1="473.1" y1="549.1" x2="473.1" y2="543.4" stroke="#0c00ff" stroke-width="3" stroke-linecap="round"/>
<line x1="479.9" y1="549.1" x2="479.9" y2="544.2" stroke="#0c00ff" stroke-width="3" stroke-linecap="round"/>
<line x1="446.6" y1="549.1" x2="446.6" y2="560.2" stroke="#0c00ff" stroke-width="3" stroke-linecap="round"/>
<line x1="453.5" y1="549.1" x2="453.5" y2="561.8" stroke="#0c00ff" stroke-width="3" stroke-linecap="round"/>
<line x1="460.3" y1="549.1" x2="460.3" y2="561.8" stroke="#0c00ff" stroke-width="3" stroke-linecap="round"/>
<line x1="467.2" y1="549.1" x2="467.2" y2="561.8" stroke="#0c00ff" stroke-width="3" stroke-linecap="round"/>
<line x1="473.9" y1="549.1" x2="473.9" y2="561.8" stroke="#0c00ff" stroke-width="3" stroke-linecap="round"/>
<line x1="480.7" y1="549.1" x2="480.7" y2="561.8" stroke="#0c00ff" stroke-width="3" stroke-linecap="round"/>
<line x1="493.9" y1="549.1" x2="534.9" y2="549.1" stroke="#0c00ff" stroke-width="3.5" stroke-linecap="round"/>
<line x1="496.8" y1="549.1" x2="496.8" y2="546" stroke="#0c00ff" stroke-width="3" stroke-linecap="round"/>
<line x1="503.8" y1="549.1" x2="503.8" y2="541.6" stroke="#0c00ff" stroke-width="3" stroke-linecap="round"/>
<line x1="510.5" y1="549.1" x2="510.5" y2="543.3" stroke="#0c00ff" stroke-width="3" stroke-linecap="round"/>
<line x1="517.2" y1="549.1" x2="517.2" y2="544.6" stroke="#0c00ff" stroke-width="3" stroke-linecap="round"/>
<line x1="524" y1="549.1" x2="524" y2="544.3" stroke="#0c00ff" stroke-width="3" stroke-linecap="round"/>
<line x1="530.7" y1="549.1" x2="530.7" y2="545.5" stroke="#0c00ff" stroke-width="3" stroke-linecap="round"/>
<line x1="497.8" y1="549.1" x2="497.8" y2="556.7" stroke="#0c00ff" stroke-width="3" stroke-linecap="round"/>
<line x1="504.8" y1="549.1" x2="504.8" y2="554.2" stroke="#0c00ff" stroke-width="3" stroke-linecap="round"/>
<line x1="511.5" y1="549.1" x2="511.5" y2="555.9" stroke="#0c00ff" stroke-width="3" stroke-linecap="round"/>
<line x1="518.2" y1="549.1" x2="518.2" y2="554.5" stroke="#0c00ff" stroke-width="3" stroke-linecap="round"/>
<line x1="525" y1="549.1" x2="525" y2="555" stroke="#0c00ff" stroke-width="3" stroke-linecap="round"/>
<line x1="531.7" y1="549.1" x2="531.7" y2="556.7" stroke="#0c00ff" stroke-width="3" stroke-linecap="round"/>
<line x1="544.2" y1="549.1" x2="585.8" y2="549.1" stroke="#0c00ff" stroke-width="3.5" stroke-linecap="round"/>
<line x1="546.8" y1="549.1" x2="546.8" y2="532.9" stroke="#0c00ff" stroke-width="3" stroke-linecap="round"/>
<line x1="553" y1="549.1" x2="553" y2="542.6" stroke="#0c00ff" stroke-width="3" stroke-linecap="round"/>
<line x1="559.7" y1="549.1" x2="559.7" y2="534.2" stroke="#0c00ff" stroke-width="3" stroke-linecap="round"/>
<line x1="566.8" y1="549.1" x2="566.8" y2="532.6" stroke="#0c00ff" stroke-width="3" stroke-linecap="round"/>
<line x1="573.5" y1="549.1" x2="573.5" y2="540.9" stroke="#0c00ff" stroke-width="3" stroke-linecap="round"/>
<line x1="580.4" y1="549.1" x2="580.4" y2="533.7" stroke="#0c00ff" stroke-width="3" stroke-linecap="round"/>
<line x1="548" y1="549.1" x2="548" y2="567.3" stroke="#0c00ff" stroke-width="3" stroke-linecap="round"/>
<line x1="554.5" y1="549.1" x2="554.5" y2="565.9" stroke="#0c00ff" stroke-width="3" stroke-linecap="round"/>
<line x1="561" y1="549.1" x2="561" y2="566.8" stroke="#0c00ff" stroke-width="3" stroke-linecap="round"/>
<line x1="568" y1="549.1" x2="568" y2="563.9" stroke="#0c00ff" stroke-width="3" stroke-linecap="round"/>
<line x1="574.8" y1="549.1" x2="574.8" y2="566.3" stroke="#0c00ff" stroke-width="3" stroke-linecap="round"/>
<line x1="581.5" y1="549.1" x2="581.5" y2="568" stroke="#0c00ff" stroke-width="3" stroke-linecap="round"/>
<line x1="87.4" y1="629.4" x2="129.3" y2="629.4" stroke="#ff1e0c" stroke-width="3.5" stroke-linecap="round"/>
<line x1="91.2" y1="629.4" x2="91.2" y2="616.8" stroke="#ff1e0c" stroke-width="3" stroke-linecap="round"/>
<line x1="98.5" y1="629.4" x2="98.5" y2="609.5" stroke="#ff1e0c" stroke-width="3" stroke-linecap="round"/>
<line x1="104.9" y1="629.4" x2="104.9" y2="614.8" stroke="#ff1e0c" stroke-width="3" stroke-linecap="round"/>
<line x1="111.8" y1="629.4" x2="111.8" y2="611.1" stroke="#ff1e0c" stroke-width="3" stroke-linecap="round"/>
<line x1="118.5" y1="629.4" x2="118.5" y2="614.8" stroke="#ff1e0c" stroke-width="3" stroke-linecap="round"/>
<line x1="125.4" y1="629.4" x2="125.4" y2="610.7" stroke="#ff1e0c" stroke-width="3" stroke-linecap="round"/>
<line x1="90.5" y1="629.4" x2="90.5" y2="638.2" stroke="#ff1e0c" stroke-width="3" stroke-linecap="round"/>
<line x1="97.2" y1="629.4" x2="97.2" y2="637.4" stroke="#ff1e0c" stroke-width="3" stroke-linecap="round"/>
<line x1="104" y1="629.4" x2="104" y2="640.3" stroke="#ff1e0c" stroke-width="3" stroke-linecap="round"/>
<line x1="110.5" y1="629.4" x2="110.5" y2="635.8" stroke="#ff1e0c" stroke-width="3" stroke-linecap="round"/>
<line x1="117.5" y1="629.4" x2="117.5" y2="639.9" stroke="#ff1e0c" stroke-width="3" stroke-linecap="round"/>
<line x1="124" y1="629.4" x2="124" y2="638.7" stroke="#ff1e0c" stroke-width="3" stroke-linecap="round"/>
<line x1="137.8" y1="629.4" x2="179.9" y2="629.4" stroke="#ff1e0c" stroke-width="3.5" stroke-linecap="round"/>
<line x1="142.6" y1="629.4" x2="142.6" y2="608.8" stroke="#ff1e0c" stroke-width="3" stroke-linecap="round"/>
<line x1="149.4" y1="629.4" x2="149.4" y2="611.1" stroke="#ff1e0c" stroke-width="3" stroke-linecap="round"/>
<line x1="156.3" y1="629.4" x2="156.3" y2="608.8" stroke="#ff1e0c" stroke-width="3" stroke-linecap="round"/>
<line x1="163" y1="629.4" x2="163" y2="608.8" stroke="#ff1e0c" stroke-width="3" stroke-linecap="round"/>
<line x1="169.6" y1="629.4" x2="169.6" y2="610.4" stroke="#ff1e0c" stroke-width="3" stroke-linecap="round"/>
<line x1="176.4" y1="629.4" x2="176.4" y2="611.1" stroke="#ff1e0c" stroke-width="3" stroke-linecap="round"/>
<line x1="141.6" y1="629.4" x2="141.6" y2="641.9" stroke="#ff1e0c" stroke-width="3" stroke-linecap="round"/>
<line x1="148.4" y1="629.4" x2="148.4" y2="641" stroke="#ff1e0c" stroke-width="3" stroke-linecap="round"/>
<line x1="155.3" y1="629.4" x2="155.3" y2="641" stroke="#ff1e0c" stroke-width="3" stroke-linecap="round"/>
<line x1="162" y1="629.4" x2="162" y2="641.9" stroke="#ff1e0c" stroke-width="3" stroke-linecap="round"/>
<line x1="168.6" y1="629.4" x2="168.6" y2="639.9" stroke="#ff1e0c" stroke-width="3" stroke-linecap="round"/>
<line x1="175.4" y1="629.4" x2="175.4" y2="641" stroke="#ff1e0c" stroke-width="3" stroke-linecap="round"/>
<line x1="189" y1="629.4" x2="230.4" y2="629.4" stroke="#ff1e0c" stroke-width="3.5" stroke-linecap="round"/>
<line x1="192.8" y1="629.4" x2="192.8" y2="621.7" stroke="#ff1e0c" stroke-width="3" stroke-linecap="round"/>
<line x1="199.6" y1="629.4" x2="199.6" y2="620.7" stroke="#ff1e0c" stroke-width="3" stroke-linecap="round"/>
<line x1="206.5" y1="629.4" x2="206.5" y2="620.7" stroke="#ff1e0c" stroke-width="3" stroke-linecap="round"/>
<line x1="213.2" y1="629.4" x2="213.2" y2="620.1" stroke="#ff1e0c" stroke-width="3" stroke-linecap="round"/>
<line x1="219.8" y1="629.4" x2="219.8" y2="620.1" stroke="#ff1e0c" stroke-width="3" stroke-linecap="round"/>
<line x1="226.6" y1="629.4" x2="226.6" y2="620.7" stroke="#ff1e0c" stroke-width="3" stroke-linecap="round"/>
<line x1="191.6" y1="629.4" x2="191.6" y2="643.5" stroke="#ff1e0c" stroke-width="3" stroke-linecap="round"/>
<line x1="198.4" y1="629.4" x2="198.4" y2="641.9" stroke="#ff1e0c" stroke-width="3" stroke-linecap="round"/>
<line x1="205.2" y1="629.4" x2="205.2" y2="639.9" stroke="#ff1e0c" stroke-width="3" stroke-linecap="round"/>
<line x1="212" y1="629.4" x2="212" y2="643.5" stroke="#ff1e0c" stroke-width="3" stroke-linecap="round"/>
<line x1="218.6" y1="629.4" x2="218.6" y2="643.1" stroke="#ff1e0c" stroke-width="3" stroke-linecap="round"/>
<line x1="225.4" y1="629.4" x2="225.4" y2="643.5" stroke="#ff1e0c" stroke-width="3" stroke-linecap="round"/>
<line x1="239.9" y1="629.4" x2="281.2" y2="629.4" stroke="#ff1e0c" stroke-width="3.5" stroke-linecap="round"/>
<line x1="243.9" y1="629.4" x2="243.9" y2="624.9" stroke="#ff1e0c" stroke-width="3" stroke-linecap="round"/>
<line x1="250.3" y1="629.4" x2="250.3" y2="623.9" stroke="#ff1e0c" stroke-width="3" stroke-linecap="round"/>
<line x1="257.1" y1="629.4" x2="257.1" y2="623.9" stroke="#ff1e0c" stroke-width="3" stroke-linecap="round"/>
<line x1="263.8" y1="629.4" x2="263.8" y2="623.9" stroke="#ff1e0c" stroke-width="3" stroke-linecap="round"/>
<line x1="270.7" y1="629.4" x2="270.7" y2="623.9" stroke="#ff1e0c" stroke-width="3" stroke-linecap="round"/>
<line x1="277.5" y1="629.4" x2="277.5" y2="624.4" stroke="#ff1e0c" stroke-width="3" stroke-linecap="round"/>
<line x1="243.1" y1="629.4" x2="243.1" y2="632.9" stroke="#ff1e0c" stroke-width="3" stroke-linecap="round"/>
<line x1="249.5" y1="629.4" x2="249.5" y2="633.9" stroke="#ff1e0c" stroke-width="3" stroke-linecap="round"/>
<line x1="256.3" y1="629.4" x2="256.3" y2="633.9" stroke="#ff1e0c" stroke-width="3" stroke-linecap="round"/>
<line x1="263" y1="629.4" x2="263" y2="633.4" stroke="#ff1e0c" stroke-width="3" stroke-linecap="round"/>
<line x1="269.9" y1="629.4" x2="269.9" y2="633.4" stroke="#ff1e0c" stroke-width="3" stroke-linecap="round"/>
<line x1="276.7" y1="629.4" x2="276.7" y2="633.9" stroke="#ff1e0c" stroke-width="3" stroke-linecap="round"/>
<line x1="290.6" y1="629.4" x2="332" y2="629.4" stroke="#ff1e0c" stroke-width="3.5" stroke-linecap="round"/>
<line x1="292.5" y1="629.4" x2="292.5" y2="626" stroke="#ff1e0c" stroke-width="3" stroke-linecap="round"/>
<line x1="299" y1="629.4" x2="299" y2="626" stroke="#ff1e0c" stroke-width="3" stroke-linecap="round"/>
<line x1="305.4" y1="629.4" x2="305.4" y2="626" stroke="#ff1e0c" stroke-width="3" stroke-linecap="round"/>
<line x1="312.1" y1="629.4" x2="312.1" y2="626" stroke="#ff1e0c" stroke-width="3" stroke-linecap="round"/>
<line x1="318.9" y1="629.4" x2="318.9" y2="626" stroke="#ff1e0c" stroke-width="3" stroke-linecap="round"/>
<line x1="326.2" y1="629.4" x2="326.2" y2="626" stroke="#ff1e0c" stroke-width="3" stroke-linecap="round"/>
<line x1="292.5" y1="629.4" x2="292.5" y2="631.8" stroke="#ff1e0c" stroke-width="3" stroke-linecap="round"/>
<line x1="299" y1="629.4" x2="299" y2="631.8" stroke="#ff1e0c" stroke-width="3" stroke-linecap="round"/>
<line x1="305.4" y1="629.4" x2="305.4" y2="631.8" stroke="#ff1e0c" stroke-width="3" stroke-linecap="round"/>
<line x1="312.1" y1="629.4" x2="312.1" y2="631.8" stroke="#ff1e0c" stroke-width="3" stroke-linecap="round"/>
<line x1="318.9" y1="629.4" x2="318.9" y2="631.8" stroke="#ff1e0c" stroke-width="3" stroke-linecap="round"/>
<line x1="326.2" y1="629.4" x2="326.2" y2="631.8" stroke="#ff1e0c" stroke-width="3" stroke-linecap="round"/>
<line x1="332" y1="629.4" x2="332" y2="632.6" stroke="#ff1e0c" stroke-width="3" stroke-linecap="round"/>
<line x1="341.5" y1="629.4" x2="382.8" y2="629.4" stroke="#ff1e0c" stroke-width="3.5" stroke-linecap="round"/>
<line x1="345.5" y1="629.4" x2="345.5" y2="619.1" stroke="#ff1e0c" stroke-width="3" stroke-linecap="round"/>
<line x1="352.3" y1="629.4" x2="352.3" y2="620.1" stroke="#ff1e0c" stroke-width="3" stroke-linecap="round"/>
<line x1="359" y1="629.4" x2="359" y2="620.1" stroke="#ff1e0c" stroke-width="3" stroke-linecap="round"/>
<line x1="365.9" y1="629.4" x2="365.9" y2="618" stroke="#ff1e0c" stroke-width="3" stroke-linecap="round"/>
<line x1="372.7" y1="629.4" x2="372.7" y2="615.9" stroke="#ff1e0c" stroke-width="3" stroke-linecap="round"/>
<line x1="379.6" y1="629.4" x2="379.6" y2="618.4" stroke="#ff1e0c" stroke-width="3" stroke-linecap="round"/>
<line x1="344" y1="629.4" x2="344" y2="634.6" stroke="#ff1e0c" stroke-width="3" stroke-linecap="round"/>
<line x1="351" y1="629.4" x2="351" y2="636.2" stroke="#ff1e0c" stroke-width="3" stroke-linecap="round"/>
<line x1="357.8" y1="629.4" x2="357.8" y2="637.4" stroke="#ff1e0c" stroke-width="3" stroke-linecap="round"/>
<line x1="364.6" y1="629.4" x2="364.6" y2="632.6" stroke="#ff1e0c" stroke-width="3" stroke-linecap="round"/>
<line x1="371.4" y1="629.4" x2="371.4" y2="632.6" stroke="#ff1e0c" stroke-width="3" stroke-linecap="round"/>
<line x1="378" y1="629.4" x2="378" y2="632.9" stroke="#ff1e0c" stroke-width="3" stroke-linecap="round"/>
<line x1="392.2" y1="629.4" x2="433.3" y2="629.4" stroke="#ff1e0c" stroke-width="3.5" stroke-linecap="round"/>
<line x1="396.1" y1="629.4" x2="396.1" y2="626.5" stroke="#ff1e0c" stroke-width="3" stroke-linecap="round"/>
<line x1="402.5" y1="629.4" x2="402.5" y2="625.2" stroke="#ff1e0c" stroke-width="3" stroke-linecap="round"/>
<line x1="409.2" y1="629.4" x2="409.2" y2="624.9" stroke="#ff1e0c" stroke-width="3" stroke-linecap="round"/>
<line x1="416.1" y1="629.4" x2="416.1" y2="624.9" stroke="#ff1e0c" stroke-width="3" stroke-linecap="round"/>
<line x1="422.6" y1="629.4" x2="422.6" y2="624.9" stroke="#ff1e0c" stroke-width="3" stroke-linecap="round"/>
<line x1="429.5" y1="629.4" x2="429.5" y2="623.9" stroke="#ff1e0c" stroke-width="3" stroke-linecap="round"/>
<line x1="395.1" y1="629.4" x2="395.1" y2="632.3" stroke="#ff1e0c" stroke-width="3" stroke-linecap="round"/>
<line x1="401.5" y1="629.4" x2="401.5" y2="632.9" stroke="#ff1e0c" stroke-width="3" stroke-linecap="round"/>
<line x1="408.2" y1="629.4" x2="408.2" y2="632.9" stroke="#ff1e0c" stroke-width="3" stroke-linecap="round"/>
<line x1="415.1" y1="629.4" x2="415.1" y2="632.9" stroke="#ff1e0c" stroke-width="3" stroke-linecap="round"/>
<line x1="421.6" y1="629.4" x2="421.6" y2="632.9" stroke="#ff1e0c" stroke-width="3" stroke-linecap="round"/>
<line x1="428.5" y1="629.4" x2="428.5" y2="632.9" stroke="#ff1e0c" stroke-width="3" stroke-linecap="round"/>
<line x1="443.1" y1="629.4" x2="484.7" y2="629.4" stroke="#ff1e0c" stroke-width="3.5" stroke-linecap="round"/>
<line x1="447.1" y1="629.4" x2="447.1" y2="617.2" stroke="#ff1e0c" stroke-width="3" stroke-linecap="round"/>
<line x1="453.6" y1="629.4" x2="453.6" y2="617.2" stroke="#ff1e0c" stroke-width="3" stroke-linecap="round"/>
<line x1="460.3" y1="629.4" x2="460.3" y2="617.2" stroke="#ff1e0c" stroke-width="3" stroke-linecap="round"/>
<line x1="467" y1="629.4" x2="467" y2="617.2" stroke="#ff1e0c" stroke-width="3" stroke-linecap="round"/>
<line x1="473.9" y1="629.4" x2="473.9" y2="615.9" stroke="#ff1e0c" stroke-width="3" stroke-linecap="round"/>
<line x1="480.9" y1="629.4" x2="480.9" y2="615.9" stroke="#ff1e0c" stroke-width="3" stroke-linecap="round"/>
<line x1="446.1" y1="629.4" x2="446.1" y2="636.6" stroke="#ff1e0c" stroke-width="3" stroke-linecap="round"/>
<line x1="452.6" y1="629.4" x2="452.6" y2="635.5" stroke="#ff1e0c" stroke-width="3" stroke-linecap="round"/>
<line x1="459.3" y1="629.4" x2="459.3" y2="635.9" stroke="#ff1e0c" stroke-width="3" stroke-linecap="round"/>
<line x1="466" y1="629.4" x2="466" y2="635.5" stroke="#ff1e0c" stroke-width="3" stroke-linecap="round"/>
<line x1="472.9" y1="629.4" x2="472.9" y2="634.6" stroke="#ff1e0c" stroke-width="3" stroke-linecap="round"/>
<line x1="479.9" y1="629.4" x2="479.9" y2="635.5" stroke="#ff1e0c" stroke-width="3" stroke-linecap="round"/>
<line x1="493.3" y1="629.4" x2="535.4" y2="629.4" stroke="#ff1e0c" stroke-width="3.5" stroke-linecap="round"/>
<line x1="497.6" y1="629.4" x2="497.6" y2="627.6" stroke="#ff1e0c" stroke-width="3" stroke-linecap="round"/>
<line x1="504" y1="629.4" x2="504" y2="627.6" stroke="#ff1e0c" stroke-width="3" stroke-linecap="round"/>
<line x1="511" y1="629.4" x2="511" y2="627.6" stroke="#ff1e0c" stroke-width="3" stroke-linecap="round"/>
<line x1="517.7" y1="629.4" x2="517.7" y2="627.6" stroke="#ff1e0c" stroke-width="3" stroke-linecap="round"/>
<line x1="524.4" y1="629.4" x2="524.4" y2="627.6" stroke="#ff1e0c" stroke-width="3" stroke-linecap="round"/>
<line x1="531.2" y1="629.4" x2="531.2" y2="627.6" stroke="#ff1e0c" stroke-width="3" stroke-linecap="round"/>
<line x1="497.6" y1="629.4" x2="497.6" y2="631.1" stroke="#ff1e0c" stroke-width="3" stroke-linecap="round"/>
<line x1="504" y1="629.4" x2="504" y2="631.1" stroke="#ff1e0c" stroke-width="3" stroke-linecap="round"/>
<line x1="511" y1="629.4" x2="511" y2="632.1" stroke="#ff1e0c" stroke-width="3" stroke-linecap="round"/>
<line x1="517.7" y1="629.4" x2="517.7" y2="631.1" stroke="#ff1e0c" stroke-width="3" stroke-linecap="round"/>
<line x1="524.4" y1="629.4" x2="524.4" y2="631.1" stroke="#ff1e0c" stroke-width="3" stroke-linecap="round"/>
<line x1="531.2" y1="629.4" x2="531.2" y2="631.1" stroke="#ff1e0c" stroke-width="3" stroke-linecap="round"/>
<line x1="544.2" y1="629.4" x2="586.1" y2="629.4" stroke="#ff1e0c" stroke-width="3.5" stroke-linecap="round"/>
<line x1="548" y1="629.4" x2="548" y2="627.6" stroke="#ff1e0c" stroke-width="3" stroke-linecap="round"/>
<line x1="553.8" y1="629.4" x2="553.8" y2="626.6" stroke="#ff1e0c" stroke-width="3" stroke-linecap="round"/>
<line x1="560.2" y1="629.4" x2="560.2" y2="624.9" stroke="#ff1e0c" stroke-width="3" stroke-linecap="round"/>
<line x1="567.3" y1="629.4" x2="567.3" y2="626.3" stroke="#ff1e0c" stroke-width="3" stroke-linecap="round"/>
<line x1="573.6" y1="629.4" x2="573.6" y2="625.9" stroke="#ff1e0c" stroke-width="3" stroke-linecap="round"/>
<line x1="580.4" y1="629.4" x2="580.4" y2="622.6" stroke="#ff1e0c" stroke-width="3" stroke-linecap="round"/>
<line x1="549" y1="629.4" x2="549" y2="632.1" stroke="#ff1e0c" stroke-width="3" stroke-linecap="round"/>
<line x1="555" y1="629.4" x2="555" y2="635" stroke="#ff1e0c" stroke-width="3" stroke-linecap="round"/>
<line x1="561" y1="629.4" x2="561" y2="632.1" stroke="#ff1e0c" stroke-width="3" stroke-linecap="round"/>
<line x1="567.5" y1="629.4" x2="567.5" y2="633.3" stroke="#ff1e0c" stroke-width="3" stroke-linecap="round"/>
<line x1="574.5" y1="629.4" x2="574.5" y2="636.7" stroke="#ff1e0c" stroke-width="3" stroke-linecap="round"/>
<line x1="581" y1="629.4" x2="581" y2="636.7" stroke="#ff1e0c" stroke-width="3" stroke-linecap="round"/>
<path d="M70.2,587.4V505.3H594.7V587.4" fill="none" stroke="#111" stroke-width="1.4"/>
<path d="M70.2,596.5V677.9H594.7V596.5" fill="none" stroke="#111" stroke-width="1.4"/>
<line x1="70.2" y1="511.7" x2="73.2" y2="511.7" stroke="#000" stroke-width="1.1" stroke-linecap="butt"/>
<line x1="70.2" y1="524.2" x2="75.2" y2="524.2" stroke="#000" stroke-width="1.1" stroke-linecap="butt"/>
<line x1="70.2" y1="536.7" x2="73.2" y2="536.7" stroke="#000" stroke-width="1.1" stroke-linecap="butt"/>
<line x1="70.2" y1="549.2" x2="75.2" y2="549.2" stroke="#000" stroke-width="1.1" stroke-linecap="butt"/>
<line x1="70.2" y1="561.7" x2="73.2" y2="561.7" stroke="#000" stroke-width="1.1" stroke-linecap="butt"/>
<line x1="70.2" y1="574.2" x2="75.2" y2="574.2" stroke="#000" stroke-width="1.1" stroke-linecap="butt"/>
<line x1="70.2" y1="586.7" x2="73.2" y2="586.7" stroke="#000" stroke-width="1.1" stroke-linecap="butt"/>
<text x="64.6" y="528.5" font-size="12" fill="#000" text-anchor="end">4</text>
<text x="64.6" y="553.5" font-size="12" fill="#000" text-anchor="end">0</text>
<text x="64.6" y="578.5" font-size="12" fill="#000" text-anchor="end">-4</text>
<line x1="70.2" y1="602.98" x2="75.2" y2="602.98" stroke="#000" stroke-width="1.1" stroke-linecap="butt"/>
<line x1="70.2" y1="616.14" x2="73.2" y2="616.14" stroke="#000" stroke-width="1.1" stroke-linecap="butt"/>
<line x1="70.2" y1="629.3" x2="75.2" y2="629.3" stroke="#000" stroke-width="1.1" stroke-linecap="butt"/>
<line x1="70.2" y1="642.46" x2="73.2" y2="642.46" stroke="#000" stroke-width="1.1" stroke-linecap="butt"/>
<line x1="70.2" y1="655.62" x2="75.2" y2="655.62" stroke="#000" stroke-width="1.1" stroke-linecap="butt"/>
<line x1="70.2" y1="668.78" x2="73.2" y2="668.78" stroke="#000" stroke-width="1.1" stroke-linecap="butt"/>
<text x="64.6" y="607.28" font-size="12" fill="#000" text-anchor="end">4</text>
<text x="64.6" y="633.6" font-size="12" fill="#000" text-anchor="end">0</text>
<text x="64.6" y="659.92" font-size="12" fill="#000" text-anchor="end">-4</text>
<line x1="102.3" y1="680.7" x2="102.3" y2="674.8" stroke="#000" stroke-width="1.5" stroke-linecap="butt"/>
<line x1="156.6" y1="680.7" x2="156.6" y2="674.8" stroke="#000" stroke-width="1.5" stroke-linecap="butt"/>
<line x1="207.4" y1="680.7" x2="207.4" y2="674.8" stroke="#000" stroke-width="1.5" stroke-linecap="butt"/>
<line x1="261" y1="680.7" x2="261" y2="674.8" stroke="#000" stroke-width="1.5" stroke-linecap="butt"/>
<line x1="311.1" y1="680.7" x2="311.1" y2="674.8" stroke="#000" stroke-width="1.5" stroke-linecap="butt"/>
<line x1="362.9" y1="680.7" x2="362.9" y2="674.8" stroke="#000" stroke-width="1.5" stroke-linecap="butt"/>
<line x1="414.3" y1="680.7" x2="414.3" y2="674.8" stroke="#000" stroke-width="1.5" stroke-linecap="butt"/>
<line x1="463.9" y1="680.7" x2="463.9" y2="674.8" stroke="#000" stroke-width="1.5" stroke-linecap="butt"/>
<line x1="513.8" y1="680.7" x2="513.8" y2="674.8" stroke="#000" stroke-width="1.5" stroke-linecap="butt"/>
<line x1="567.3" y1="680.7" x2="567.3" y2="674.8" stroke="#000" stroke-width="1.5" stroke-linecap="butt"/>
<text x="101.5" y="699" font-size="14.2" fill="#000" text-anchor="middle" textLength="36" lengthAdjust="spacingAndGlyphs">PTFE</text>
<text x="157.4" y="699" font-size="14.2" fill="#000" text-anchor="middle" textLength="37.4" lengthAdjust="spacingAndGlyphs">PVDF</text>
<text x="208" y="699" font-size="14.2" fill="#000" text-anchor="middle" textLength="48.9" lengthAdjust="spacingAndGlyphs">Kapton</text>
<text x="259.4" y="699" font-size="14.2" fill="#000" text-anchor="middle" textLength="28.2" lengthAdjust="spacingAndGlyphs">PET</text>
<text x="308.8" y="699" font-size="14.2" fill="#000" text-anchor="middle" textLength="45" lengthAdjust="spacingAndGlyphs">PMMA</text>
<text x="362.7" y="699" font-size="14.2" fill="#000" text-anchor="middle" textLength="40.8" lengthAdjust="spacingAndGlyphs">Paper</text>
<text x="412.2" y="699" font-size="14.2" fill="#000" text-anchor="middle" textLength="13.3" lengthAdjust="spacingAndGlyphs">Al</text>
<text x="463.5" y="699" font-size="14.2" fill="#000" text-anchor="middle" textLength="38.7" lengthAdjust="spacingAndGlyphs">Glass</text>
<text x="512.1" y="699" font-size="14.2" fill="#000" text-anchor="middle" textLength="27.8" lengthAdjust="spacingAndGlyphs">TPU</text>
<text x="568.2" y="699" font-size="14.2" fill="#000" text-anchor="middle" textLength="53.4" lengthAdjust="spacingAndGlyphs">Nylon11</text>
<text x="597.8" y="557.2" font-size="14.6" fill="#0c00ff" textLength="41" lengthAdjust="spacingAndGlyphs">PDMS</text>
<text x="598.2" y="637.1" font-size="14.3" fill="#ff1e0c" textLength="86.4" lengthAdjust="spacingAndGlyphs">PEI(b)-PDMS</text>
<text x="48.3" y="591.11" font-size="18.6" fill="#000" text-anchor="middle" textLength="92.8" lengthAdjust="spacingAndGlyphs" transform="rotate(-90 48.3 591.11)">Voltage(V)</text>
</svg>
</body></html>
